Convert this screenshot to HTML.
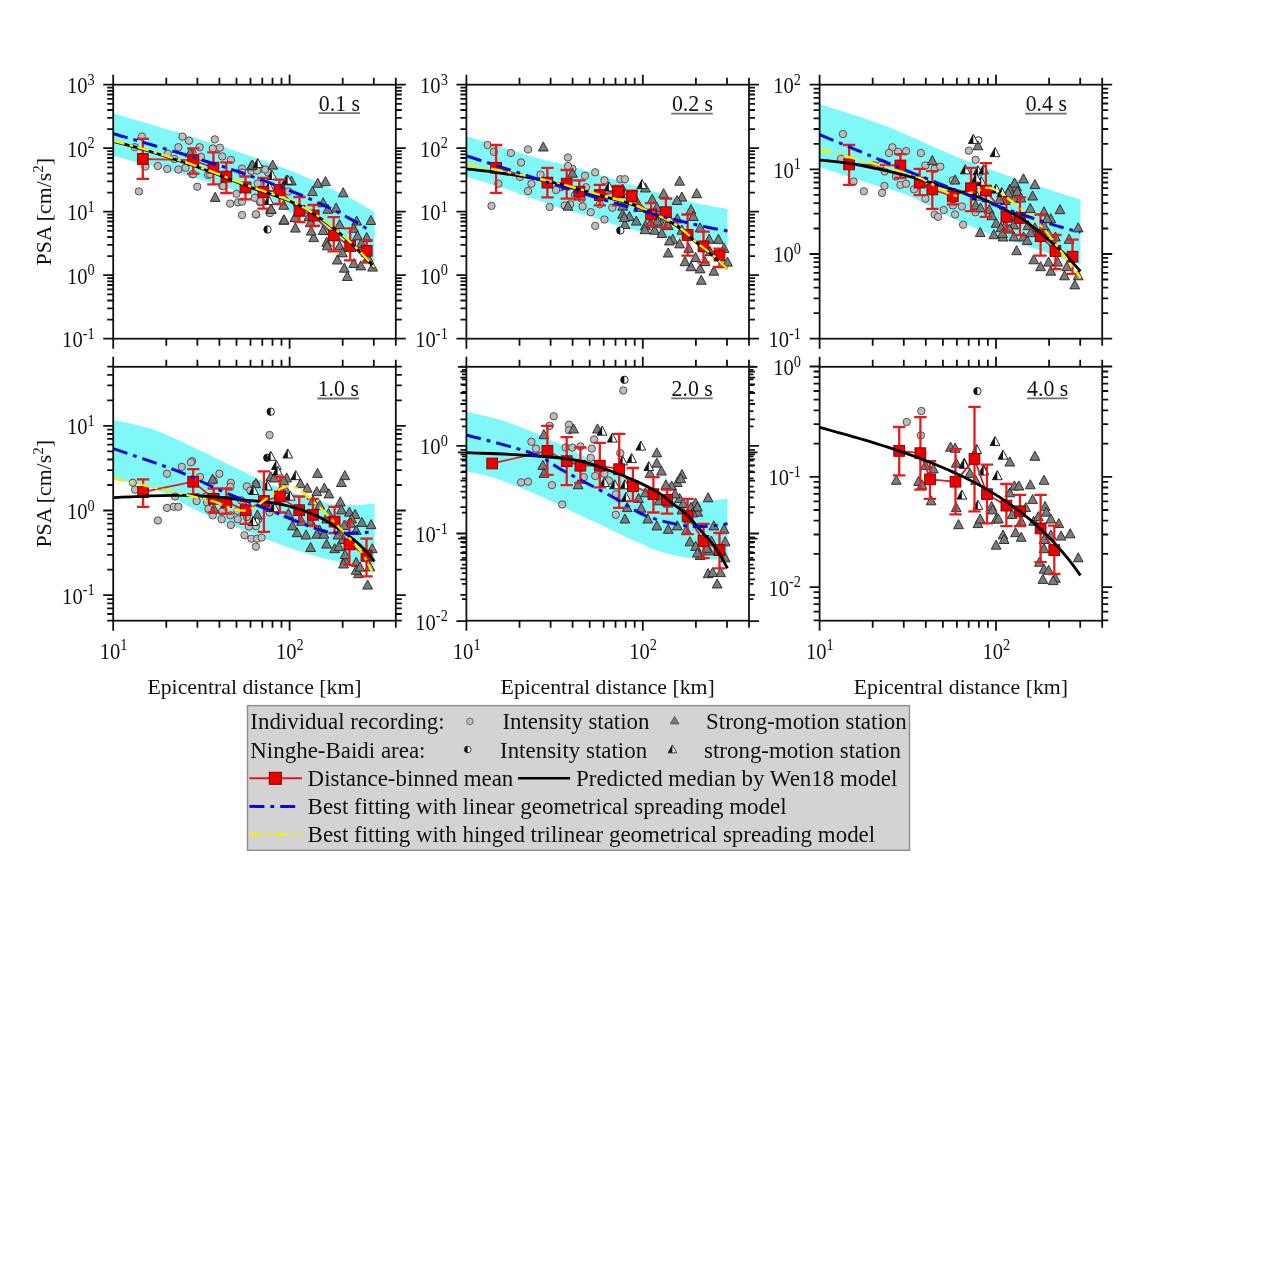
<!DOCTYPE html>
<html><head><meta charset="utf-8"><title>PSA vs epicentral distance</title>
<style>html,body{margin:0;padding:0;background:#fff;width:1272px;height:1270px;overflow:hidden}svg{display:block;will-change:transform}</style>
</head><body>
<svg width="1272" height="1270" viewBox="0 0 1272 1270"><rect width="1272" height="1270" fill="#fff"/><clipPath id="c0"><rect x="113.2" y="84.7" width="282.6" height="254.0"/></clipPath><g clip-path="url(#c0)"><path fill="#80F8F8" d="M113.2,113.3C115.1,113.9 120.8,115.6 124.6,116.7C128.4,117.8 132.1,118.9 135.9,120.0C139.7,121.1 143.5,122.2 147.3,123.3C151.1,124.4 154.9,125.6 158.7,126.7C162.5,127.8 166.2,128.9 170.0,130.1C173.8,131.2 177.6,132.4 181.4,133.6C185.2,134.8 189.0,135.9 192.8,137.1C196.6,138.3 200.3,139.5 204.1,140.7C207.9,141.9 211.7,143.1 215.5,144.3C219.3,145.5 223.1,146.8 226.9,148.0C230.7,149.2 234.4,150.5 238.2,151.8C242.0,153.1 245.8,154.4 249.6,155.7C253.4,157.0 257.1,158.3 260.9,159.7C264.7,161.0 268.5,162.4 272.3,163.8C276.1,165.2 279.9,166.6 283.7,168.1C287.5,169.6 291.2,171.1 295.0,172.6C298.8,174.1 302.6,175.7 306.4,177.3C310.2,178.9 314.0,180.5 317.8,182.2C321.6,183.9 325.3,185.6 329.1,187.4C332.9,189.2 336.7,191.0 340.5,192.9C344.3,194.8 348.1,196.9 351.9,198.9C355.7,200.9 359.4,203.0 363.2,205.2C367.0,207.4 372.7,210.9 374.6,212.1L374.6,267.1C372.7,265.5 367.0,260.4 363.2,257.2C359.4,254.0 355.7,251.0 351.9,248.2C348.1,245.3 344.3,242.7 340.5,240.1C336.7,237.5 332.9,235.1 329.1,232.8C325.3,230.5 321.6,228.2 317.8,226.1C314.0,224.0 310.2,221.9 306.4,220.0C302.6,218.1 298.8,216.2 295.0,214.4C291.2,212.6 287.5,210.9 283.7,209.2C279.9,207.5 276.1,205.9 272.3,204.4C268.5,202.9 264.7,201.4 260.9,199.9C257.1,198.4 253.4,197.0 249.6,195.6C245.8,194.2 242.0,192.9 238.2,191.6C234.4,190.3 230.7,189.0 226.9,187.8C223.1,186.6 219.3,185.4 215.5,184.2C211.7,183.0 207.9,181.8 204.1,180.7C200.3,179.5 196.6,178.4 192.8,177.3C189.0,176.2 185.2,175.1 181.4,174.0C177.6,172.9 173.8,171.9 170.0,170.9C166.2,169.9 162.5,168.8 158.7,167.8C154.9,166.8 151.1,165.8 147.3,164.8C143.5,163.8 139.7,162.9 135.9,161.9C132.1,160.9 128.4,160.0 124.6,159.0C120.8,158.0 115.1,156.6 113.2,156.1Z"/><circle cx="141.8" cy="136.6" r="3.7" fill="#BDBDBD" stroke="#444" stroke-width="0.9"/><circle cx="134.8" cy="147.2" r="3.7" fill="#BDBDBD" stroke="#444" stroke-width="0.9"/><circle cx="138.9" cy="191.4" r="3.7" fill="#BDBDBD" stroke="#444" stroke-width="0.9"/><circle cx="145.4" cy="166.6" r="3.7" fill="#BDBDBD" stroke="#444" stroke-width="0.9"/><circle cx="157.8" cy="166.0" r="3.7" fill="#BDBDBD" stroke="#444" stroke-width="0.9"/><circle cx="167.2" cy="169.0" r="3.7" fill="#BDBDBD" stroke="#444" stroke-width="0.9"/><circle cx="178.4" cy="169.6" r="3.7" fill="#BDBDBD" stroke="#444" stroke-width="0.9"/><circle cx="182.5" cy="136.6" r="3.7" fill="#BDBDBD" stroke="#444" stroke-width="0.9"/><circle cx="189.0" cy="140.7" r="3.7" fill="#BDBDBD" stroke="#444" stroke-width="0.9"/><circle cx="178.4" cy="147.2" r="3.7" fill="#BDBDBD" stroke="#444" stroke-width="0.9"/><circle cx="167.8" cy="153.7" r="3.7" fill="#BDBDBD" stroke="#444" stroke-width="0.9"/><circle cx="174.3" cy="159.0" r="3.7" fill="#BDBDBD" stroke="#444" stroke-width="0.9"/><circle cx="185.5" cy="167.8" r="3.7" fill="#BDBDBD" stroke="#444" stroke-width="0.9"/><circle cx="192.5" cy="174.3" r="3.7" fill="#BDBDBD" stroke="#444" stroke-width="0.9"/><circle cx="199.6" cy="147.2" r="3.7" fill="#BDBDBD" stroke="#444" stroke-width="0.9"/><circle cx="197.3" cy="186.7" r="3.7" fill="#BDBDBD" stroke="#444" stroke-width="0.9"/><circle cx="214.8" cy="139.4" r="3.7" fill="#BDBDBD" stroke="#444" stroke-width="0.9"/><circle cx="212.8" cy="148.5" r="3.7" fill="#BDBDBD" stroke="#444" stroke-width="0.9"/><circle cx="219.9" cy="147.7" r="3.7" fill="#BDBDBD" stroke="#444" stroke-width="0.9"/><circle cx="222.3" cy="156.4" r="3.7" fill="#BDBDBD" stroke="#444" stroke-width="0.9"/><circle cx="230.9" cy="159.9" r="3.7" fill="#BDBDBD" stroke="#444" stroke-width="0.9"/><circle cx="201.0" cy="156.8" r="3.7" fill="#BDBDBD" stroke="#444" stroke-width="0.9"/><circle cx="193.1" cy="174.1" r="3.7" fill="#BDBDBD" stroke="#444" stroke-width="0.9"/><circle cx="208.1" cy="174.9" r="3.7" fill="#BDBDBD" stroke="#444" stroke-width="0.9"/><circle cx="222.3" cy="185.9" r="3.7" fill="#BDBDBD" stroke="#444" stroke-width="0.9"/><circle cx="236.5" cy="193.8" r="3.7" fill="#BDBDBD" stroke="#444" stroke-width="0.9"/><circle cx="230.2" cy="203.6" r="3.7" fill="#BDBDBD" stroke="#444" stroke-width="0.9"/><circle cx="238.0" cy="202.4" r="3.7" fill="#BDBDBD" stroke="#444" stroke-width="0.9"/><circle cx="242.0" cy="201.7" r="3.7" fill="#BDBDBD" stroke="#444" stroke-width="0.9"/><circle cx="242.0" cy="215.0" r="3.7" fill="#BDBDBD" stroke="#444" stroke-width="0.9"/><circle cx="256.1" cy="214.6" r="3.7" fill="#BDBDBD" stroke="#444" stroke-width="0.9"/><circle cx="255.4" cy="197.7" r="3.7" fill="#BDBDBD" stroke="#444" stroke-width="0.9"/><circle cx="260.1" cy="202.4" r="3.7" fill="#BDBDBD" stroke="#444" stroke-width="0.9"/><circle cx="269.5" cy="212.7" r="3.7" fill="#BDBDBD" stroke="#444" stroke-width="0.9"/><circle cx="242.0" cy="168.6" r="3.7" fill="#BDBDBD" stroke="#444" stroke-width="0.9"/><circle cx="242.0" cy="172.5" r="3.7" fill="#BDBDBD" stroke="#444" stroke-width="0.9"/><circle cx="251.4" cy="170.9" r="3.7" fill="#BDBDBD" stroke="#444" stroke-width="0.9"/><circle cx="260.9" cy="168.6" r="3.7" fill="#BDBDBD" stroke="#444" stroke-width="0.9"/><circle cx="268.0" cy="172.5" r="3.7" fill="#BDBDBD" stroke="#444" stroke-width="0.9"/><circle cx="288.4" cy="191.4" r="3.7" fill="#BDBDBD" stroke="#444" stroke-width="0.9"/><circle cx="257.7" cy="183.5" r="3.7" fill="#BDBDBD" stroke="#444" stroke-width="0.9"/><circle cx="255.9" cy="214.3" r="3.7" fill="#BDBDBD" stroke="#444" stroke-width="0.9"/><circle cx="270.0" cy="213.1" r="3.7" fill="#BDBDBD" stroke="#444" stroke-width="0.9"/><circle cx="254.7" cy="197.8" r="3.7" fill="#BDBDBD" stroke="#444" stroke-width="0.9"/><circle cx="260.6" cy="201.3" r="3.7" fill="#BDBDBD" stroke="#444" stroke-width="0.9"/><circle cx="265.3" cy="169.5" r="3.7" fill="#BDBDBD" stroke="#444" stroke-width="0.9"/><circle cx="257.1" cy="170.7" r="3.7" fill="#BDBDBD" stroke="#444" stroke-width="0.9"/><circle cx="223.2" cy="186.1" r="3.7" fill="#BDBDBD" stroke="#444" stroke-width="0.9"/><circle cx="210.2" cy="174.3" r="3.7" fill="#BDBDBD" stroke="#444" stroke-width="0.9"/><circle cx="192.5" cy="153.1" r="3.7" fill="#BDBDBD" stroke="#444" stroke-width="0.9"/><path d="M215.2,192.3L220.1,201.4L210.3,201.4Z" fill="#7B7B7B" stroke="#222" stroke-width="0.9"/><path d="M251.4,160.8L256.3,169.9L246.5,169.9Z" fill="#7B7B7B" stroke="#222" stroke-width="0.9"/><path d="M272.7,160.0L277.6,169.1L267.8,169.1Z" fill="#7B7B7B" stroke="#222" stroke-width="0.9"/><path d="M271.1,204.1L276.0,213.2L266.2,213.2Z" fill="#7B7B7B" stroke="#222" stroke-width="0.9"/><path d="M283.7,215.2L288.6,224.3L278.8,224.3Z" fill="#7B7B7B" stroke="#222" stroke-width="0.9"/><path d="M283.7,200.2L288.6,209.3L278.8,209.3Z" fill="#7B7B7B" stroke="#222" stroke-width="0.9"/><path d="M190.2,147.7L195.1,156.8L185.3,156.8Z" fill="#7B7B7B" stroke="#222" stroke-width="0.9"/><path d="M252.4,160.0L257.3,169.1L247.5,169.1Z" fill="#7B7B7B" stroke="#222" stroke-width="0.9"/><path d="M317.8,178.2L322.7,187.3L312.9,187.3Z" fill="#7B7B7B" stroke="#222" stroke-width="0.9"/><path d="M325.5,176.5L330.4,185.6L320.6,185.6Z" fill="#7B7B7B" stroke="#222" stroke-width="0.9"/><path d="M343.2,187.7L348.1,196.8L338.3,196.8Z" fill="#7B7B7B" stroke="#222" stroke-width="0.9"/><path d="M312.5,186.5L317.4,195.6L307.6,195.6Z" fill="#7B7B7B" stroke="#222" stroke-width="0.9"/><path d="M323.1,197.7L328.0,206.8L318.2,206.8Z" fill="#7B7B7B" stroke="#222" stroke-width="0.9"/><path d="M327.8,204.2L332.7,213.3L322.9,213.3Z" fill="#7B7B7B" stroke="#222" stroke-width="0.9"/><path d="M356.7,216.0L361.6,225.1L351.8,225.1Z" fill="#7B7B7B" stroke="#222" stroke-width="0.9"/><path d="M370.9,215.4L375.8,224.5L366.0,224.5Z" fill="#7B7B7B" stroke="#222" stroke-width="0.9"/><path d="M284.2,214.8L289.1,223.9L279.3,223.9Z" fill="#7B7B7B" stroke="#222" stroke-width="0.9"/><path d="M295.4,223.0L300.3,232.1L290.5,232.1Z" fill="#7B7B7B" stroke="#222" stroke-width="0.9"/><path d="M313.7,232.5L318.6,241.6L308.8,241.6Z" fill="#7B7B7B" stroke="#222" stroke-width="0.9"/><path d="M326.7,237.2L331.6,246.3L321.8,246.3Z" fill="#7B7B7B" stroke="#222" stroke-width="0.9"/><path d="M337.3,254.9L342.2,264.0L332.4,264.0Z" fill="#7B7B7B" stroke="#222" stroke-width="0.9"/><path d="M344.3,263.1L349.2,272.2L339.4,272.2Z" fill="#7B7B7B" stroke="#222" stroke-width="0.9"/><path d="M347.3,271.4L352.2,280.5L342.4,280.5Z" fill="#7B7B7B" stroke="#222" stroke-width="0.9"/><path d="M360.8,260.8L365.7,269.9L355.9,269.9Z" fill="#7B7B7B" stroke="#222" stroke-width="0.9"/><path d="M372.6,262.0L377.5,271.1L367.7,271.1Z" fill="#7B7B7B" stroke="#222" stroke-width="0.9"/><path d="M339.6,240.7L344.5,249.8L334.7,249.8Z" fill="#7B7B7B" stroke="#222" stroke-width="0.9"/><path d="M327.2,240.7L332.1,249.8L322.3,249.8Z" fill="#7B7B7B" stroke="#222" stroke-width="0.9"/><path d="M291.3,175.9L296.2,185.0L286.4,185.0Z" fill="#7B7B7B" stroke="#222" stroke-width="0.9"/><path d="M309.0,211.3L313.9,220.4L304.1,220.4Z" fill="#7B7B7B" stroke="#222" stroke-width="0.9"/><path d="M323.1,225.4L328.0,234.5L318.2,234.5Z" fill="#7B7B7B" stroke="#222" stroke-width="0.9"/><path d="M366.7,232.5L371.6,241.6L361.8,241.6Z" fill="#7B7B7B" stroke="#222" stroke-width="0.9"/><path d="M367.9,252.5L372.8,261.6L363.0,261.6Z" fill="#7B7B7B" stroke="#222" stroke-width="0.9"/><path d="M353.8,258.4L358.7,267.5L348.9,267.5Z" fill="#7B7B7B" stroke="#222" stroke-width="0.9"/><path d="M271.2,204.2L276.1,213.3L266.3,213.3Z" fill="#7B7B7B" stroke="#222" stroke-width="0.9"/><path d="M294.8,212.4L299.7,221.5L289.9,221.5Z" fill="#7B7B7B" stroke="#222" stroke-width="0.9"/><path d="M336.1,203.0L341.0,212.1L331.2,212.1Z" fill="#7B7B7B" stroke="#222" stroke-width="0.9"/><path d="M339.6,219.5L344.5,228.6L334.7,228.6Z" fill="#7B7B7B" stroke="#222" stroke-width="0.9"/><path d="M310.2,217.5L315.1,226.6L305.3,226.6Z" fill="#7B7B7B" stroke="#222" stroke-width="0.9"/><path d="M311.2,226.0L316.1,235.1L306.3,235.1Z" fill="#7B7B7B" stroke="#222" stroke-width="0.9"/><path d="M342.4,247.8L347.3,256.9L337.5,256.9Z" fill="#7B7B7B" stroke="#222" stroke-width="0.9"/><path d="M286.6,175.0L291.5,184.1L281.7,184.1Z" fill="#7B7B7B" stroke="#222" stroke-width="0.9"/><path d="M353.7,223.2L358.6,232.3L348.8,232.3Z" fill="#7B7B7B" stroke="#222" stroke-width="0.9"/><path d="M357.5,230.8L362.4,239.9L352.6,239.9Z" fill="#7B7B7B" stroke="#222" stroke-width="0.9"/><path d="M361.3,238.3L366.2,247.4L356.4,247.4Z" fill="#7B7B7B" stroke="#222" stroke-width="0.9"/><circle cx="267.5" cy="229.5" r="3.7" fill="#fff" stroke="#111" stroke-width="0.9"/><path d="M267.5,225.8A3.7,3.7 0 0 0 267.5,233.2Z" fill="#111"/><path d="M257.7,158.5L262.6,167.6L252.8,167.6Z" fill="#fff" stroke="#111" stroke-width="0.9"/><path d="M257.7,158.5L257.7,167.6L252.8,167.6Z" fill="#111"/><path d="M271.9,170.3L276.8,179.4L267.0,179.4Z" fill="#fff" stroke="#111" stroke-width="0.9"/><path d="M271.9,170.3L271.9,179.4L267.0,179.4Z" fill="#111"/><path d="M287.6,175.0L292.5,184.1L282.7,184.1Z" fill="#fff" stroke="#111" stroke-width="0.9"/><path d="M287.6,175.0L287.6,184.1L282.7,184.1Z" fill="#111"/><path d="M268.7,195.5L273.6,204.6L263.8,204.6Z" fill="#fff" stroke="#111" stroke-width="0.9"/><path d="M268.7,195.5L268.7,204.6L263.8,204.6Z" fill="#111"/><path d="M269.0,181.6L273.9,190.7L264.1,190.7Z" fill="#fff" stroke="#111" stroke-width="0.9"/><path d="M269.0,181.6L269.0,190.7L264.1,190.7Z" fill="#111"/><polyline points="142.8,159.0 193.3,160.2 213.4,167.7 226.4,176.6 245.5,187.5 263.5,192.0 279.5,190.0 299.5,210.8 313.7,215.5 333.7,235.5 350.2,246.1 366.7,250.8" fill="none" stroke="#D02828" stroke-width="1.8"/><path d="M142.8,138.9V178.8M136.6,138.9H149.0M136.6,178.8H149.0" stroke="#E41C1C" stroke-width="2.3" fill="none"/><path d="M193.3,148.3V173.7M187.1,148.3H199.5M187.1,173.7H199.5" stroke="#E41C1C" stroke-width="2.3" fill="none"/><path d="M213.4,152.4V184.3M207.2,152.4H219.6M207.2,184.3H219.6" stroke="#E41C1C" stroke-width="2.3" fill="none"/><path d="M226.4,162.3V193.0M220.2,162.3H232.6M220.2,193.0H232.6" stroke="#E41C1C" stroke-width="2.3" fill="none"/><path d="M245.5,176.5V199.3M239.3,176.5H251.7M239.3,199.3H251.7" stroke="#E41C1C" stroke-width="2.3" fill="none"/><path d="M263.5,178.0V208.7M257.3,178.0H269.7M257.3,208.7H269.7" stroke="#E41C1C" stroke-width="2.3" fill="none"/><path d="M279.5,179.6V204.0M273.3,179.6H285.7M273.3,204.0H285.7" stroke="#E41C1C" stroke-width="2.3" fill="none"/><path d="M299.5,197.0V222.0M293.3,197.0H305.7M293.3,222.0H305.7" stroke="#E41C1C" stroke-width="2.3" fill="none"/><path d="M313.7,205.0V226.0M307.5,205.0H319.9M307.5,226.0H319.9" stroke="#E41C1C" stroke-width="2.3" fill="none"/><path d="M333.7,217.2V251.4M327.5,217.2H339.9M327.5,251.4H339.9" stroke="#E41C1C" stroke-width="2.3" fill="none"/><path d="M350.2,228.4V260.3M344.0,228.4H356.4M344.0,260.3H356.4" stroke="#E41C1C" stroke-width="2.3" fill="none"/><path d="M366.7,240.2V262.6M360.5,240.2H372.9M360.5,262.6H372.9" stroke="#E41C1C" stroke-width="2.3" fill="none"/><rect x="137.4" y="153.6" width="10.8" height="10.8" fill="#EE0000" stroke="#7a0000" stroke-width="0.9"/><rect x="187.9" y="154.8" width="10.8" height="10.8" fill="#EE0000" stroke="#7a0000" stroke-width="0.9"/><rect x="208.0" y="162.3" width="10.8" height="10.8" fill="#EE0000" stroke="#7a0000" stroke-width="0.9"/><rect x="221.0" y="171.2" width="10.8" height="10.8" fill="#EE0000" stroke="#7a0000" stroke-width="0.9"/><rect x="240.1" y="182.1" width="10.8" height="10.8" fill="#EE0000" stroke="#7a0000" stroke-width="0.9"/><rect x="258.1" y="186.6" width="10.8" height="10.8" fill="#EE0000" stroke="#7a0000" stroke-width="0.9"/><rect x="274.1" y="184.6" width="10.8" height="10.8" fill="#EE0000" stroke="#7a0000" stroke-width="0.9"/><rect x="294.1" y="205.4" width="10.8" height="10.8" fill="#EE0000" stroke="#7a0000" stroke-width="0.9"/><rect x="308.3" y="210.1" width="10.8" height="10.8" fill="#EE0000" stroke="#7a0000" stroke-width="0.9"/><rect x="328.3" y="230.1" width="10.8" height="10.8" fill="#EE0000" stroke="#7a0000" stroke-width="0.9"/><rect x="344.8" y="240.7" width="10.8" height="10.8" fill="#EE0000" stroke="#7a0000" stroke-width="0.9"/><rect x="361.3" y="245.4" width="10.8" height="10.8" fill="#EE0000" stroke="#7a0000" stroke-width="0.9"/><path d="M113.2,141.3C119.3,143.0 135.5,147.1 150.0,151.5C164.5,155.9 183.3,162.1 200.0,168.0C216.7,173.9 239.2,183.0 250.0,187.0C260.8,191.0 260.0,190.4 265.0,192.2C270.0,193.9 275.8,195.9 280.0,197.4C284.2,198.9 286.7,199.9 290.0,201.3C293.3,202.8 296.7,204.4 300.0,206.1C303.3,207.8 306.7,209.7 310.0,211.7C313.3,213.7 316.7,215.8 320.0,218.1C323.3,220.4 326.7,222.8 330.0,225.4C333.3,228.0 336.7,230.7 340.0,233.5C343.3,236.4 346.7,239.4 350.0,242.5C353.3,245.6 356.7,248.9 360.0,252.3C363.3,255.7 367.6,260.3 370.0,262.9C372.4,265.6 373.8,267.2 374.6,268.1" fill="none" stroke="#000" stroke-width="2.8" stroke-linejoin="round"/><path d="M113.2,140.7C119.3,142.4 135.5,146.5 150.0,150.9C164.5,155.3 183.3,161.5 200.0,167.4C216.7,173.3 239.2,182.4 250.0,186.4C260.8,190.4 260.0,189.8 265.0,191.6C270.0,193.3 275.8,195.3 280.0,196.8C284.2,198.3 286.7,199.3 290.0,200.7C293.3,202.2 296.7,203.8 300.0,205.5C303.3,207.2 306.7,209.1 310.0,211.1C313.3,213.1 316.7,215.2 320.0,217.5C323.3,219.8 326.7,222.2 330.0,224.8C333.3,227.4 336.7,230.1 340.0,232.9C343.3,235.8 346.7,238.8 350.0,241.9C353.3,245.0 356.7,248.3 360.0,251.7C363.3,255.1 367.6,259.7 370.0,262.3C372.4,265.0 373.8,266.6 374.6,267.5" fill="none" stroke="#F6EE00" stroke-width="2.4" stroke-dasharray="12,5,3.5,4.5"/><path d="M113.2,133.7C115.1,134.2 120.7,135.8 124.4,136.9C128.1,138.0 131.9,139.0 135.6,140.1C139.3,141.2 143.0,142.3 146.7,143.4C150.4,144.5 154.2,145.6 157.9,146.7C161.6,147.8 165.4,148.9 169.1,150.0C172.8,151.1 176.6,152.2 180.3,153.3C184.0,154.4 187.7,155.5 191.4,156.7C195.1,157.8 198.9,159.0 202.6,160.2C206.3,161.4 210.1,162.5 213.8,163.7C217.5,164.9 221.3,166.1 225.0,167.3C228.7,168.5 232.5,169.8 236.2,171.0C239.9,172.2 243.6,173.5 247.3,174.8C251.0,176.1 254.8,177.5 258.5,178.8C262.2,180.1 266.0,181.4 269.7,182.8C273.4,184.2 277.2,185.7 280.9,187.1C284.6,188.5 288.4,190.0 292.1,191.5C295.8,193.0 299.5,194.5 303.2,196.1C306.9,197.7 310.7,199.3 314.4,201.0C318.1,202.7 321.9,204.4 325.6,206.2C329.3,208.0 333.1,209.8 336.8,211.7C340.5,213.6 344.2,215.6 347.9,217.6C351.6,219.6 355.4,221.7 359.1,223.9C362.8,226.1 368.4,229.7 370.3,230.8" fill="none" stroke="#0A0AD0" stroke-width="3" stroke-dasharray="15,6,3.8,6"/></g><clipPath id="c1"><rect x="466.4" y="84.7" width="282.6" height="254.0"/></clipPath><g clip-path="url(#c1)"><path fill="#80F8F8" d="M466.4,136.3C478.7,140.1 521.6,153.5 540.0,158.8C558.4,164.1 553.7,161.3 577.0,168.0C600.3,174.7 654.9,192.2 680.0,199.0C705.1,205.8 719.6,207.3 727.5,209.0L727.5,246.0C723.8,245.4 712.9,243.8 705.0,242.5C697.1,241.2 686.9,239.5 680.0,238.5C673.1,237.5 669.6,237.5 663.8,236.6C657.9,235.7 652.8,234.7 644.9,232.8C637.0,230.9 626.0,228.1 616.6,225.3C607.2,222.5 597.7,218.6 588.3,215.8C578.9,213.0 573.1,212.6 560.0,208.3C546.9,204.0 525.0,195.3 509.4,190.0C493.8,184.7 473.6,178.8 466.4,176.5Z"/><circle cx="487.6" cy="145.0" r="3.7" fill="#BDBDBD" stroke="#444" stroke-width="0.9"/><circle cx="510.9" cy="153.0" r="3.7" fill="#BDBDBD" stroke="#444" stroke-width="0.9"/><circle cx="528.0" cy="149.5" r="3.7" fill="#BDBDBD" stroke="#444" stroke-width="0.9"/><circle cx="521.1" cy="162.5" r="3.7" fill="#BDBDBD" stroke="#444" stroke-width="0.9"/><circle cx="493.8" cy="151.8" r="3.7" fill="#BDBDBD" stroke="#444" stroke-width="0.9"/><circle cx="567.9" cy="157.5" r="3.7" fill="#BDBDBD" stroke="#444" stroke-width="0.9"/><circle cx="491.5" cy="205.9" r="3.7" fill="#BDBDBD" stroke="#444" stroke-width="0.9"/><circle cx="498.3" cy="183.7" r="3.7" fill="#BDBDBD" stroke="#444" stroke-width="0.9"/><circle cx="531.4" cy="183.7" r="3.7" fill="#BDBDBD" stroke="#444" stroke-width="0.9"/><circle cx="528.0" cy="191.0" r="3.7" fill="#BDBDBD" stroke="#444" stroke-width="0.9"/><circle cx="520.0" cy="176.9" r="3.7" fill="#BDBDBD" stroke="#444" stroke-width="0.9"/><circle cx="549.6" cy="207.0" r="3.7" fill="#BDBDBD" stroke="#444" stroke-width="0.9"/><circle cx="572.4" cy="168.9" r="3.7" fill="#BDBDBD" stroke="#444" stroke-width="0.9"/><circle cx="585.0" cy="175.8" r="3.7" fill="#BDBDBD" stroke="#444" stroke-width="0.9"/><circle cx="595.2" cy="172.3" r="3.7" fill="#BDBDBD" stroke="#444" stroke-width="0.9"/><circle cx="586.1" cy="187.2" r="3.7" fill="#BDBDBD" stroke="#444" stroke-width="0.9"/><circle cx="590.7" cy="212.2" r="3.7" fill="#BDBDBD" stroke="#444" stroke-width="0.9"/><circle cx="604.4" cy="219.5" r="3.7" fill="#BDBDBD" stroke="#444" stroke-width="0.9"/><circle cx="595.2" cy="225.9" r="3.7" fill="#BDBDBD" stroke="#444" stroke-width="0.9"/><circle cx="620.3" cy="179.2" r="3.7" fill="#BDBDBD" stroke="#444" stroke-width="0.9"/><circle cx="624.9" cy="179.2" r="3.7" fill="#BDBDBD" stroke="#444" stroke-width="0.9"/><circle cx="604.4" cy="180.3" r="3.7" fill="#BDBDBD" stroke="#444" stroke-width="0.9"/><circle cx="612.3" cy="207.7" r="3.7" fill="#BDBDBD" stroke="#444" stroke-width="0.9"/><circle cx="581.6" cy="198.6" r="3.7" fill="#BDBDBD" stroke="#444" stroke-width="0.9"/><circle cx="561.0" cy="187.2" r="3.7" fill="#BDBDBD" stroke="#444" stroke-width="0.9"/><circle cx="540.5" cy="174.6" r="3.7" fill="#BDBDBD" stroke="#444" stroke-width="0.9"/><circle cx="570.2" cy="204.3" r="3.7" fill="#BDBDBD" stroke="#444" stroke-width="0.9"/><circle cx="599.8" cy="204.3" r="3.7" fill="#BDBDBD" stroke="#444" stroke-width="0.9"/><circle cx="568.0" cy="166.0" r="3.7" fill="#BDBDBD" stroke="#444" stroke-width="0.9"/><circle cx="556.0" cy="190.0" r="3.7" fill="#BDBDBD" stroke="#444" stroke-width="0.9"/><circle cx="575.0" cy="195.0" r="3.7" fill="#BDBDBD" stroke="#444" stroke-width="0.9"/><circle cx="610.0" cy="195.0" r="3.7" fill="#BDBDBD" stroke="#444" stroke-width="0.9"/><circle cx="582.6" cy="206.4" r="3.7" fill="#BDBDBD" stroke="#444" stroke-width="0.9"/><circle cx="564.7" cy="205.5" r="3.7" fill="#BDBDBD" stroke="#444" stroke-width="0.9"/><path d="M543.3,141.9L548.2,151.0L538.4,151.0Z" fill="#7B7B7B" stroke="#222" stroke-width="0.9"/><path d="M572.4,168.1L577.3,177.2L567.5,177.2Z" fill="#7B7B7B" stroke="#222" stroke-width="0.9"/><path d="M567.9,201.1L572.8,210.2L563.0,210.2Z" fill="#7B7B7B" stroke="#222" stroke-width="0.9"/><path d="M622.6,201.1L627.5,210.2L617.7,210.2Z" fill="#7B7B7B" stroke="#222" stroke-width="0.9"/><path d="M624.9,219.4L629.8,228.5L620.0,228.5Z" fill="#7B7B7B" stroke="#222" stroke-width="0.9"/><path d="M645.4,182.9L650.3,192.0L640.5,192.0Z" fill="#7B7B7B" stroke="#222" stroke-width="0.9"/><path d="M679.6,176.1L684.5,185.2L674.7,185.2Z" fill="#7B7B7B" stroke="#222" stroke-width="0.9"/><path d="M696.7,188.6L701.6,197.7L691.8,197.7Z" fill="#7B7B7B" stroke="#222" stroke-width="0.9"/><path d="M681.9,192.0L686.8,201.1L677.0,201.1Z" fill="#7B7B7B" stroke="#222" stroke-width="0.9"/><path d="M663.6,188.6L668.5,197.7L658.7,197.7Z" fill="#7B7B7B" stroke="#222" stroke-width="0.9"/><path d="M652.2,194.3L657.1,203.4L647.3,203.4Z" fill="#7B7B7B" stroke="#222" stroke-width="0.9"/><path d="M638.6,202.3L643.5,211.4L633.7,211.4Z" fill="#7B7B7B" stroke="#222" stroke-width="0.9"/><path d="M636.3,216.0L641.2,225.1L631.4,225.1Z" fill="#7B7B7B" stroke="#222" stroke-width="0.9"/><path d="M645.4,220.5L650.3,229.6L640.5,229.6Z" fill="#7B7B7B" stroke="#222" stroke-width="0.9"/><path d="M654.5,225.1L659.4,234.2L649.6,234.2Z" fill="#7B7B7B" stroke="#222" stroke-width="0.9"/><path d="M661.4,218.2L666.3,227.3L656.5,227.3Z" fill="#7B7B7B" stroke="#222" stroke-width="0.9"/><path d="M668.2,247.9L673.1,257.0L663.3,257.0Z" fill="#7B7B7B" stroke="#222" stroke-width="0.9"/><path d="M672.8,234.2L677.7,243.3L667.9,243.3Z" fill="#7B7B7B" stroke="#222" stroke-width="0.9"/><path d="M677.3,213.7L682.2,222.8L672.4,222.8Z" fill="#7B7B7B" stroke="#222" stroke-width="0.9"/><path d="M681.9,225.1L686.8,234.2L677.0,234.2Z" fill="#7B7B7B" stroke="#222" stroke-width="0.9"/><path d="M691.0,204.6L695.9,213.7L686.1,213.7Z" fill="#7B7B7B" stroke="#222" stroke-width="0.9"/><path d="M693.3,211.4L698.2,220.5L688.4,220.5Z" fill="#7B7B7B" stroke="#222" stroke-width="0.9"/><path d="M679.6,238.8L684.5,247.9L674.7,247.9Z" fill="#7B7B7B" stroke="#222" stroke-width="0.9"/><path d="M688.7,243.3L693.6,252.4L683.8,252.4Z" fill="#7B7B7B" stroke="#222" stroke-width="0.9"/><path d="M691.0,261.6L695.9,270.7L686.1,270.7Z" fill="#7B7B7B" stroke="#222" stroke-width="0.9"/><path d="M700.1,263.8L705.0,272.9L695.2,272.9Z" fill="#7B7B7B" stroke="#222" stroke-width="0.9"/><path d="M701.3,275.2L706.2,284.3L696.4,284.3Z" fill="#7B7B7B" stroke="#222" stroke-width="0.9"/><path d="M713.8,266.1L718.7,275.2L708.9,275.2Z" fill="#7B7B7B" stroke="#222" stroke-width="0.9"/><path d="M718.4,234.2L723.3,243.3L713.5,243.3Z" fill="#7B7B7B" stroke="#222" stroke-width="0.9"/><path d="M724.1,243.3L729.0,252.4L719.2,252.4Z" fill="#7B7B7B" stroke="#222" stroke-width="0.9"/><path d="M727.5,257.0L732.4,266.1L722.6,266.1Z" fill="#7B7B7B" stroke="#222" stroke-width="0.9"/><path d="M700.1,222.8L705.0,231.9L695.2,231.9Z" fill="#7B7B7B" stroke="#222" stroke-width="0.9"/><path d="M709.2,234.2L714.1,243.3L704.3,243.3Z" fill="#7B7B7B" stroke="#222" stroke-width="0.9"/><path d="M695.6,252.4L700.5,261.5L690.7,261.5Z" fill="#7B7B7B" stroke="#222" stroke-width="0.9"/><path d="M668.2,220.5L673.1,229.6L663.3,229.6Z" fill="#7B7B7B" stroke="#222" stroke-width="0.9"/><path d="M629.4,211.4L634.3,220.5L624.5,220.5Z" fill="#7B7B7B" stroke="#222" stroke-width="0.9"/><path d="M622.6,209.1L627.5,218.2L617.7,218.2Z" fill="#7B7B7B" stroke="#222" stroke-width="0.9"/><path d="M636.3,195.4L641.2,204.5L631.4,204.5Z" fill="#7B7B7B" stroke="#222" stroke-width="0.9"/><path d="M656.8,202.3L661.7,211.4L651.9,211.4Z" fill="#7B7B7B" stroke="#222" stroke-width="0.9"/><path d="M663.6,206.8L668.5,215.9L658.7,215.9Z" fill="#7B7B7B" stroke="#222" stroke-width="0.9"/><path d="M705.0,256.6L709.9,265.7L700.1,265.7Z" fill="#7B7B7B" stroke="#222" stroke-width="0.9"/><path d="M685.0,256.6L689.9,265.7L680.1,265.7Z" fill="#7B7B7B" stroke="#222" stroke-width="0.9"/><path d="M710.0,246.6L714.9,255.7L705.1,255.7Z" fill="#7B7B7B" stroke="#222" stroke-width="0.9"/><path d="M624.2,212.3L629.1,221.4L619.3,221.4Z" fill="#7B7B7B" stroke="#222" stroke-width="0.9"/><path d="M644.9,224.6L649.8,233.7L640.0,233.7Z" fill="#7B7B7B" stroke="#222" stroke-width="0.9"/><path d="M661.9,228.4L666.8,237.5L657.0,237.5Z" fill="#7B7B7B" stroke="#222" stroke-width="0.9"/><path d="M669.4,235.9L674.3,245.0L664.5,245.0Z" fill="#7B7B7B" stroke="#222" stroke-width="0.9"/><path d="M677.0,195.4L681.9,204.5L672.1,204.5Z" fill="#7B7B7B" stroke="#222" stroke-width="0.9"/><path d="M657.2,216.1L662.1,225.2L652.3,225.2Z" fill="#7B7B7B" stroke="#222" stroke-width="0.9"/><path d="M650.6,218.0L655.5,227.1L645.7,227.1Z" fill="#7B7B7B" stroke="#222" stroke-width="0.9"/><circle cx="620.3" cy="230.5" r="3.7" fill="#fff" stroke="#111" stroke-width="0.9"/><path d="M620.3,226.8A3.7,3.7 0 0 0 620.3,234.2Z" fill="#111"/><path d="M642.0,179.5L646.9,188.6L637.1,188.6Z" fill="#fff" stroke="#111" stroke-width="0.9"/><path d="M642.0,179.5L642.0,188.6L637.1,188.6Z" fill="#111"/><path d="M608.9,181.8L613.8,190.9L604.0,190.9Z" fill="#fff" stroke="#111" stroke-width="0.9"/><path d="M608.9,181.8L608.9,190.9L604.0,190.9Z" fill="#111"/><path d="M622.6,184.0L627.5,193.1L617.7,193.1Z" fill="#fff" stroke="#111" stroke-width="0.9"/><path d="M622.6,184.0L622.6,193.1L617.7,193.1Z" fill="#111"/><path d="M624.9,188.6L629.8,197.7L620.0,197.7Z" fill="#fff" stroke="#111" stroke-width="0.9"/><path d="M624.9,188.6L624.9,197.7L620.0,197.7Z" fill="#111"/><polyline points="496.1,167.8 547.4,182.6 566.7,183.7 579.3,191.7 599.8,195.1 618.0,191.7 631.7,196.3 651.1,214.5 665.9,212.2 687.6,235.0 703.5,246.4 719.5,255.6" fill="none" stroke="#D02828" stroke-width="1.8"/><path d="M496.1,145.0V192.9M489.9,145.0H502.3M489.9,192.9H502.3" stroke="#E41C1C" stroke-width="2.3" fill="none"/><path d="M547.4,167.8V197.4M541.2,167.8H553.6M541.2,197.4H553.6" stroke="#E41C1C" stroke-width="2.3" fill="none"/><path d="M566.7,170.0V198.6M560.5,170.0H572.9M560.5,198.6H572.9" stroke="#E41C1C" stroke-width="2.3" fill="none"/><path d="M579.3,180.3V199.7M573.1,180.3H585.5M573.1,199.7H585.5" stroke="#E41C1C" stroke-width="2.3" fill="none"/><path d="M599.8,184.9V205.4M593.6,184.9H606.0M593.6,205.4H606.0" stroke="#E41C1C" stroke-width="2.3" fill="none"/><path d="M618.0,186.0V205.4M611.8,186.0H624.2M611.8,205.4H624.2" stroke="#E41C1C" stroke-width="2.3" fill="none"/><path d="M631.7,190.6V204.3M625.5,190.6H637.9M625.5,204.3H637.9" stroke="#E41C1C" stroke-width="2.3" fill="none"/><path d="M651.1,203.1V225.9M644.9,203.1H657.3M644.9,225.9H657.3" stroke="#E41C1C" stroke-width="2.3" fill="none"/><path d="M665.9,198.6V228.2M659.7,198.6H672.1M659.7,228.2H672.1" stroke="#E41C1C" stroke-width="2.3" fill="none"/><path d="M687.6,214.5V255.6M681.4,214.5H693.8M681.4,255.6H693.8" stroke="#E41C1C" stroke-width="2.3" fill="none"/><path d="M703.5,231.6V262.4M697.3,231.6H709.7M697.3,262.4H709.7" stroke="#E41C1C" stroke-width="2.3" fill="none"/><path d="M719.5,248.7V267.0M713.3,248.7H725.7M713.3,267.0H725.7" stroke="#E41C1C" stroke-width="2.3" fill="none"/><rect x="490.7" y="162.4" width="10.8" height="10.8" fill="#EE0000" stroke="#7a0000" stroke-width="0.9"/><rect x="542.0" y="177.2" width="10.8" height="10.8" fill="#EE0000" stroke="#7a0000" stroke-width="0.9"/><rect x="561.3" y="178.3" width="10.8" height="10.8" fill="#EE0000" stroke="#7a0000" stroke-width="0.9"/><rect x="573.9" y="186.3" width="10.8" height="10.8" fill="#EE0000" stroke="#7a0000" stroke-width="0.9"/><rect x="594.4" y="189.7" width="10.8" height="10.8" fill="#EE0000" stroke="#7a0000" stroke-width="0.9"/><rect x="612.6" y="186.3" width="10.8" height="10.8" fill="#EE0000" stroke="#7a0000" stroke-width="0.9"/><rect x="626.3" y="190.9" width="10.8" height="10.8" fill="#EE0000" stroke="#7a0000" stroke-width="0.9"/><rect x="645.7" y="209.1" width="10.8" height="10.8" fill="#EE0000" stroke="#7a0000" stroke-width="0.9"/><rect x="660.5" y="206.8" width="10.8" height="10.8" fill="#EE0000" stroke="#7a0000" stroke-width="0.9"/><rect x="682.2" y="229.6" width="10.8" height="10.8" fill="#EE0000" stroke="#7a0000" stroke-width="0.9"/><rect x="698.1" y="241.0" width="10.8" height="10.8" fill="#EE0000" stroke="#7a0000" stroke-width="0.9"/><rect x="714.1" y="250.2" width="10.8" height="10.8" fill="#EE0000" stroke="#7a0000" stroke-width="0.9"/><path d="M466.4,168.9C472.0,169.6 487.7,171.2 500.0,173.0C512.3,174.8 528.3,177.2 540.0,179.5C551.7,181.8 560.0,184.3 570.0,187.0C580.0,189.7 590.3,192.8 600.0,195.5C609.7,198.2 620.7,200.7 628.0,203.0C635.3,205.3 638.7,207.3 644.0,209.6C649.3,211.9 654.5,214.2 660.0,217.0C665.5,219.8 670.5,221.5 677.0,226.1C683.5,230.7 692.9,239.7 699.0,244.8C705.1,249.9 709.0,252.5 713.8,256.5C718.5,260.5 725.2,266.9 727.5,269.0" fill="none" stroke="#000" stroke-width="2.8" stroke-linejoin="round"/><path d="M466.4,164.4C472.0,165.4 487.7,168.1 500.0,170.5C512.3,172.9 528.3,176.3 540.0,179.0C551.7,181.7 560.0,183.8 570.0,186.5C580.0,189.2 590.3,192.3 600.0,195.0C609.7,197.7 620.7,200.2 628.0,202.5C635.3,204.8 638.7,206.7 644.0,209.0C649.3,211.3 654.5,213.7 660.0,216.5C665.5,219.3 670.5,220.9 677.0,225.6C683.5,230.2 692.9,239.3 699.0,244.4C705.1,249.5 709.0,252.1 713.8,256.2C718.5,260.3 725.2,267.0 727.5,269.2" fill="none" stroke="#F6EE00" stroke-width="2.4" stroke-dasharray="12,5,3.5,4.5"/><path d="M467.1,156.0C469.0,156.6 474.6,158.5 478.4,159.7C482.2,160.9 485.9,162.2 489.7,163.4C493.5,164.6 497.3,165.9 501.1,167.1C504.9,168.3 508.6,169.6 512.4,170.8C516.2,172.0 519.9,173.3 523.7,174.5C527.5,175.7 531.2,177.0 535.0,178.2C538.8,179.4 542.6,180.6 546.4,181.8C550.2,183.0 553.9,184.2 557.7,185.4C561.5,186.6 565.2,187.8 569.0,189.0C572.8,190.2 576.5,191.3 580.3,192.5C584.1,193.7 587.8,194.8 591.6,196.0C595.4,197.2 599.2,198.3 603.0,199.5C606.8,200.7 610.5,201.8 614.3,202.9C618.1,204.0 621.8,205.1 625.6,206.2C629.4,207.3 633.1,208.4 636.9,209.5C640.7,210.6 644.4,211.6 648.2,212.6C652.0,213.6 655.8,214.7 659.6,215.7C663.4,216.7 667.1,217.7 670.9,218.7C674.7,219.7 678.4,220.6 682.2,221.5C686.0,222.4 689.7,223.3 693.5,224.2C697.3,225.0 701.1,225.8 704.9,226.6C708.7,227.4 712.4,228.2 716.2,228.9C720.0,229.6 725.6,230.7 727.5,231.0" fill="none" stroke="#0A0AD0" stroke-width="3" stroke-dasharray="15,6,3.8,6"/></g><clipPath id="c2"><rect x="819.6" y="84.7" width="282.6" height="254.0"/></clipPath><g clip-path="url(#c2)"><path fill="#80F8F8" d="M819.6,103.9C830.4,107.5 862.2,117.0 884.4,125.6C906.6,134.1 930.0,146.1 952.8,155.2C975.6,164.3 999.9,172.9 1021.2,180.3C1042.5,187.7 1070.6,196.5 1080.5,199.7L1080.5,264.7C1075.4,262.9 1059.9,257.4 1050.0,254.0C1040.1,250.6 1032.0,247.7 1021.2,244.0C1010.4,240.3 996.9,236.5 985.0,232.0C973.1,227.5 960.8,222.2 950.0,217.0C939.2,211.8 928.3,205.1 920.0,201.0C911.7,196.9 907.5,195.1 900.0,192.5C892.5,189.9 883.3,187.9 875.0,185.3C866.7,182.7 859.2,180.1 850.0,177.0C840.8,173.9 824.7,168.6 819.6,166.9Z"/><circle cx="842.9" cy="134.0" r="3.7" fill="#BDBDBD" stroke="#444" stroke-width="0.9"/><circle cx="841.1" cy="158.7" r="3.7" fill="#BDBDBD" stroke="#444" stroke-width="0.9"/><circle cx="853.6" cy="181.5" r="3.7" fill="#BDBDBD" stroke="#444" stroke-width="0.9"/><circle cx="863.9" cy="191.3" r="3.7" fill="#BDBDBD" stroke="#444" stroke-width="0.9"/><circle cx="882.1" cy="192.9" r="3.7" fill="#BDBDBD" stroke="#444" stroke-width="0.9"/><circle cx="884.4" cy="186.0" r="3.7" fill="#BDBDBD" stroke="#444" stroke-width="0.9"/><circle cx="892.4" cy="147.3" r="3.7" fill="#BDBDBD" stroke="#444" stroke-width="0.9"/><circle cx="889.0" cy="153.0" r="3.7" fill="#BDBDBD" stroke="#444" stroke-width="0.9"/><circle cx="906.1" cy="151.1" r="3.7" fill="#BDBDBD" stroke="#444" stroke-width="0.9"/><circle cx="898.1" cy="151.8" r="3.7" fill="#BDBDBD" stroke="#444" stroke-width="0.9"/><circle cx="920.9" cy="153.0" r="3.7" fill="#BDBDBD" stroke="#444" stroke-width="0.9"/><circle cx="900.4" cy="184.9" r="3.7" fill="#BDBDBD" stroke="#444" stroke-width="0.9"/><circle cx="906.1" cy="183.7" r="3.7" fill="#BDBDBD" stroke="#444" stroke-width="0.9"/><circle cx="925.4" cy="165.5" r="3.7" fill="#BDBDBD" stroke="#444" stroke-width="0.9"/><circle cx="934.6" cy="168.9" r="3.7" fill="#BDBDBD" stroke="#444" stroke-width="0.9"/><circle cx="940.3" cy="166.6" r="3.7" fill="#BDBDBD" stroke="#444" stroke-width="0.9"/><circle cx="968.8" cy="150.7" r="3.7" fill="#BDBDBD" stroke="#444" stroke-width="0.9"/><circle cx="975.6" cy="159.8" r="3.7" fill="#BDBDBD" stroke="#444" stroke-width="0.9"/><circle cx="934.6" cy="214.5" r="3.7" fill="#BDBDBD" stroke="#444" stroke-width="0.9"/><circle cx="938.0" cy="216.8" r="3.7" fill="#BDBDBD" stroke="#444" stroke-width="0.9"/><circle cx="943.7" cy="210.0" r="3.7" fill="#BDBDBD" stroke="#444" stroke-width="0.9"/><circle cx="955.1" cy="214.5" r="3.7" fill="#BDBDBD" stroke="#444" stroke-width="0.9"/><circle cx="963.1" cy="224.8" r="3.7" fill="#BDBDBD" stroke="#444" stroke-width="0.9"/><circle cx="952.8" cy="180.3" r="3.7" fill="#BDBDBD" stroke="#444" stroke-width="0.9"/><circle cx="961.9" cy="206.5" r="3.7" fill="#BDBDBD" stroke="#444" stroke-width="0.9"/><circle cx="925.4" cy="198.6" r="3.7" fill="#BDBDBD" stroke="#444" stroke-width="0.9"/><circle cx="914.0" cy="189.4" r="3.7" fill="#BDBDBD" stroke="#444" stroke-width="0.9"/><circle cx="975.6" cy="212.2" r="3.7" fill="#BDBDBD" stroke="#444" stroke-width="0.9"/><circle cx="952.8" cy="205.4" r="3.7" fill="#BDBDBD" stroke="#444" stroke-width="0.9"/><circle cx="874.3" cy="165.3" r="3.7" fill="#BDBDBD" stroke="#444" stroke-width="0.9"/><circle cx="881.4" cy="164.3" r="3.7" fill="#BDBDBD" stroke="#444" stroke-width="0.9"/><circle cx="884.7" cy="171.4" r="3.7" fill="#BDBDBD" stroke="#444" stroke-width="0.9"/><circle cx="896.0" cy="176.6" r="3.7" fill="#BDBDBD" stroke="#444" stroke-width="0.9"/><circle cx="978.3" cy="140.4" r="3.7" fill="#fff" stroke="#111" stroke-width="0.9"/><path d="M932.3,155.5L937.2,164.6L927.4,164.6Z" fill="#7B7B7B" stroke="#222" stroke-width="0.9"/><path d="M955.1,174.9L960.0,184.0L950.2,184.0Z" fill="#7B7B7B" stroke="#222" stroke-width="0.9"/><path d="M975.6,200.0L980.5,209.1L970.7,209.1Z" fill="#7B7B7B" stroke="#222" stroke-width="0.9"/><path d="M980.2,227.4L985.1,236.5L975.3,236.5Z" fill="#7B7B7B" stroke="#222" stroke-width="0.9"/><path d="M993.8,229.6L998.7,238.7L988.9,238.7Z" fill="#7B7B7B" stroke="#222" stroke-width="0.9"/><path d="M1003.0,231.9L1007.9,241.0L998.1,241.0Z" fill="#7B7B7B" stroke="#222" stroke-width="0.9"/><path d="M989.3,204.6L994.2,213.7L984.4,213.7Z" fill="#7B7B7B" stroke="#222" stroke-width="0.9"/><path d="M996.1,218.2L1001.0,227.3L991.2,227.3Z" fill="#7B7B7B" stroke="#222" stroke-width="0.9"/><path d="M1005.2,220.5L1010.1,229.6L1000.3,229.6Z" fill="#7B7B7B" stroke="#222" stroke-width="0.9"/><path d="M1009.8,184.0L1014.7,193.1L1004.9,193.1Z" fill="#7B7B7B" stroke="#222" stroke-width="0.9"/><path d="M1016.6,181.8L1021.5,190.9L1011.7,190.9Z" fill="#7B7B7B" stroke="#222" stroke-width="0.9"/><path d="M1023.5,173.8L1028.4,182.9L1018.6,182.9Z" fill="#7B7B7B" stroke="#222" stroke-width="0.9"/><path d="M1034.9,179.5L1039.8,188.6L1030.0,188.6Z" fill="#7B7B7B" stroke="#222" stroke-width="0.9"/><path d="M1032.6,190.9L1037.5,200.0L1027.7,200.0Z" fill="#7B7B7B" stroke="#222" stroke-width="0.9"/><path d="M1030.3,203.4L1035.2,212.5L1025.4,212.5Z" fill="#7B7B7B" stroke="#222" stroke-width="0.9"/><path d="M1014.4,193.2L1019.3,202.3L1009.5,202.3Z" fill="#7B7B7B" stroke="#222" stroke-width="0.9"/><path d="M1016.6,211.4L1021.5,220.5L1011.7,220.5Z" fill="#7B7B7B" stroke="#222" stroke-width="0.9"/><path d="M1023.5,231.9L1028.4,241.0L1018.6,241.0Z" fill="#7B7B7B" stroke="#222" stroke-width="0.9"/><path d="M1028.0,220.5L1032.9,229.6L1023.1,229.6Z" fill="#7B7B7B" stroke="#222" stroke-width="0.9"/><path d="M1034.9,222.8L1039.8,231.9L1030.0,231.9Z" fill="#7B7B7B" stroke="#222" stroke-width="0.9"/><path d="M1016.6,245.6L1021.5,254.7L1011.7,254.7Z" fill="#7B7B7B" stroke="#222" stroke-width="0.9"/><path d="M1033.7,254.7L1038.6,263.8L1028.8,263.8Z" fill="#7B7B7B" stroke="#222" stroke-width="0.9"/><path d="M1040.6,261.6L1045.5,270.7L1035.7,270.7Z" fill="#7B7B7B" stroke="#222" stroke-width="0.9"/><path d="M1044.0,206.8L1048.9,215.9L1039.1,215.9Z" fill="#7B7B7B" stroke="#222" stroke-width="0.9"/><path d="M1050.8,213.7L1055.7,222.8L1045.9,222.8Z" fill="#7B7B7B" stroke="#222" stroke-width="0.9"/><path d="M1060.0,204.6L1064.9,213.7L1055.1,213.7Z" fill="#7B7B7B" stroke="#222" stroke-width="0.9"/><path d="M1055.4,231.9L1060.3,241.0L1050.5,241.0Z" fill="#7B7B7B" stroke="#222" stroke-width="0.9"/><path d="M1048.6,257.0L1053.5,266.1L1043.7,266.1Z" fill="#7B7B7B" stroke="#222" stroke-width="0.9"/><path d="M1050.8,266.1L1055.7,275.2L1045.9,275.2Z" fill="#7B7B7B" stroke="#222" stroke-width="0.9"/><path d="M1057.7,257.0L1062.6,266.1L1052.8,266.1Z" fill="#7B7B7B" stroke="#222" stroke-width="0.9"/><path d="M1064.5,270.7L1069.4,279.8L1059.6,279.8Z" fill="#7B7B7B" stroke="#222" stroke-width="0.9"/><path d="M1069.1,234.2L1074.0,243.3L1064.2,243.3Z" fill="#7B7B7B" stroke="#222" stroke-width="0.9"/><path d="M1078.2,222.8L1083.1,231.9L1073.3,231.9Z" fill="#7B7B7B" stroke="#222" stroke-width="0.9"/><path d="M1078.2,270.7L1083.1,279.8L1073.3,279.8Z" fill="#7B7B7B" stroke="#222" stroke-width="0.9"/><path d="M1074.8,279.8L1079.7,288.9L1069.9,288.9Z" fill="#7B7B7B" stroke="#222" stroke-width="0.9"/><path d="M1066.8,261.6L1071.7,270.7L1061.9,270.7Z" fill="#7B7B7B" stroke="#222" stroke-width="0.9"/><path d="M977.9,140.7L982.8,149.8L973.0,149.8Z" fill="#7B7B7B" stroke="#222" stroke-width="0.9"/><path d="M1044.0,220.5L1048.9,229.6L1039.1,229.6Z" fill="#7B7B7B" stroke="#222" stroke-width="0.9"/><path d="M1005.2,195.4L1010.1,204.5L1000.3,204.5Z" fill="#7B7B7B" stroke="#222" stroke-width="0.9"/><path d="M1014.5,178.0L1019.4,187.1L1009.6,187.1Z" fill="#7B7B7B" stroke="#222" stroke-width="0.9"/><path d="M1017.3,186.5L1022.2,195.6L1012.4,195.6Z" fill="#7B7B7B" stroke="#222" stroke-width="0.9"/><path d="M980.5,202.8L985.4,211.9L975.6,211.9Z" fill="#7B7B7B" stroke="#222" stroke-width="0.9"/><path d="M991.8,210.6L996.7,219.7L986.9,219.7Z" fill="#7B7B7B" stroke="#222" stroke-width="0.9"/><path d="M1001.0,222.6L1005.9,231.7L996.1,231.7Z" fill="#7B7B7B" stroke="#222" stroke-width="0.9"/><path d="M1002.5,228.3L1007.4,237.4L997.6,237.4Z" fill="#7B7B7B" stroke="#222" stroke-width="0.9"/><path d="M1013.8,231.8L1018.7,240.9L1008.9,240.9Z" fill="#7B7B7B" stroke="#222" stroke-width="0.9"/><path d="M1027.2,235.4L1032.1,244.5L1022.3,244.5Z" fill="#7B7B7B" stroke="#222" stroke-width="0.9"/><path d="M1030.8,227.6L1035.7,236.7L1025.9,236.7Z" fill="#7B7B7B" stroke="#222" stroke-width="0.9"/><path d="M1013.8,219.8L1018.7,228.9L1008.9,228.9Z" fill="#7B7B7B" stroke="#222" stroke-width="0.9"/><path d="M1009.5,224.0L1014.4,233.1L1004.6,233.1Z" fill="#7B7B7B" stroke="#222" stroke-width="0.9"/><path d="M1047.0,213.4L1051.9,222.5L1042.1,222.5Z" fill="#7B7B7B" stroke="#222" stroke-width="0.9"/><path d="M1048.5,228.3L1053.4,237.4L1043.6,237.4Z" fill="#7B7B7B" stroke="#222" stroke-width="0.9"/><path d="M1020.9,192.9L1025.8,202.0L1016.0,202.0Z" fill="#7B7B7B" stroke="#222" stroke-width="0.9"/><path d="M999.6,194.3L1004.5,203.4L994.7,203.4Z" fill="#7B7B7B" stroke="#222" stroke-width="0.9"/><path d="M1008.1,188.0L1013.0,197.1L1003.2,197.1Z" fill="#7B7B7B" stroke="#222" stroke-width="0.9"/><path d="M973.3,134.3L978.2,143.4L968.4,143.4Z" fill="#fff" stroke="#111" stroke-width="0.9"/><path d="M973.3,134.3L973.3,143.4L968.4,143.4Z" fill="#111"/><path d="M995.0,147.6L999.9,156.7L990.1,156.7Z" fill="#fff" stroke="#111" stroke-width="0.9"/><path d="M995.0,147.6L995.0,156.7L990.1,156.7Z" fill="#111"/><path d="M965.3,164.7L970.2,173.8L960.4,173.8Z" fill="#fff" stroke="#111" stroke-width="0.9"/><path d="M965.3,164.7L965.3,173.8L960.4,173.8Z" fill="#111"/><path d="M977.9,165.8L982.8,174.9L973.0,174.9Z" fill="#fff" stroke="#111" stroke-width="0.9"/><path d="M977.9,165.8L977.9,174.9L973.0,174.9Z" fill="#111"/><path d="M983.6,164.7L988.5,173.8L978.7,173.8Z" fill="#fff" stroke="#111" stroke-width="0.9"/><path d="M983.6,164.7L983.6,173.8L978.7,173.8Z" fill="#111"/><path d="M996.1,184.0L1001.0,193.1L991.2,193.1Z" fill="#fff" stroke="#111" stroke-width="0.9"/><path d="M996.1,184.0L996.1,193.1L991.2,193.1Z" fill="#111"/><path d="M1001.8,187.5L1006.7,196.6L996.9,196.6Z" fill="#fff" stroke="#111" stroke-width="0.9"/><path d="M1001.8,187.5L1001.8,196.6L996.9,196.6Z" fill="#111"/><path d="M976.7,190.9L981.6,200.0L971.8,200.0Z" fill="#fff" stroke="#111" stroke-width="0.9"/><path d="M976.7,190.9L976.7,200.0L971.8,200.0Z" fill="#111"/><path d="M981.2,176.6L986.1,185.7L976.3,185.7Z" fill="#fff" stroke="#111" stroke-width="0.9"/><path d="M981.2,176.6L981.2,185.7L976.3,185.7Z" fill="#111"/><path d="M976.3,173.1L981.2,182.2L971.4,182.2Z" fill="#fff" stroke="#111" stroke-width="0.9"/><path d="M976.3,173.1L976.3,182.2L971.4,182.2Z" fill="#111"/><polyline points="849.1,164.4 900.4,165.5 919.7,182.6 932.3,189.4 952.8,196.3 971.0,188.3 985.9,190.6 1006.4,216.8 1020.0,217.9 1040.6,236.2 1055.4,251.0 1072.5,256.7" fill="none" stroke="#D02828" stroke-width="1.8"/><path d="M849.1,145.0V184.9M842.9,145.0H855.3M842.9,184.9H855.3" stroke="#E41C1C" stroke-width="2.3" fill="none"/><path d="M900.4,154.1V178.0M894.2,154.1H906.6M894.2,178.0H906.6" stroke="#E41C1C" stroke-width="2.3" fill="none"/><path d="M919.7,168.9V195.1M913.5,168.9H925.9M913.5,195.1H925.9" stroke="#E41C1C" stroke-width="2.3" fill="none"/><path d="M932.3,171.2V208.8M926.1,171.2H938.5M926.1,208.8H938.5" stroke="#E41C1C" stroke-width="2.3" fill="none"/><path d="M952.8,191.7V204.3M946.6,191.7H959.0M946.6,204.3H959.0" stroke="#E41C1C" stroke-width="2.3" fill="none"/><path d="M971.0,167.8V211.1M964.8,167.8H977.2M964.8,211.1H977.2" stroke="#E41C1C" stroke-width="2.3" fill="none"/><path d="M985.9,163.2V216.8M979.7,163.2H992.1M979.7,216.8H992.1" stroke="#E41C1C" stroke-width="2.3" fill="none"/><path d="M1006.4,198.6V231.6M1000.2,198.6H1012.6M1000.2,231.6H1012.6" stroke="#E41C1C" stroke-width="2.3" fill="none"/><path d="M1020.0,197.4V235.0M1013.8,197.4H1026.2M1013.8,235.0H1026.2" stroke="#E41C1C" stroke-width="2.3" fill="none"/><path d="M1040.6,214.5V255.6M1034.4,214.5H1046.8M1034.4,255.6H1046.8" stroke="#E41C1C" stroke-width="2.3" fill="none"/><path d="M1055.4,235.0V269.2M1049.2,235.0H1061.6M1049.2,269.2H1061.6" stroke="#E41C1C" stroke-width="2.3" fill="none"/><path d="M1072.5,239.6V273.8M1066.3,239.6H1078.7M1066.3,273.8H1078.7" stroke="#E41C1C" stroke-width="2.3" fill="none"/><rect x="843.7" y="159.0" width="10.8" height="10.8" fill="#EE0000" stroke="#7a0000" stroke-width="0.9"/><rect x="895.0" y="160.1" width="10.8" height="10.8" fill="#EE0000" stroke="#7a0000" stroke-width="0.9"/><rect x="914.3" y="177.2" width="10.8" height="10.8" fill="#EE0000" stroke="#7a0000" stroke-width="0.9"/><rect x="926.9" y="184.0" width="10.8" height="10.8" fill="#EE0000" stroke="#7a0000" stroke-width="0.9"/><rect x="947.4" y="190.9" width="10.8" height="10.8" fill="#EE0000" stroke="#7a0000" stroke-width="0.9"/><rect x="965.6" y="182.9" width="10.8" height="10.8" fill="#EE0000" stroke="#7a0000" stroke-width="0.9"/><rect x="980.5" y="185.2" width="10.8" height="10.8" fill="#EE0000" stroke="#7a0000" stroke-width="0.9"/><rect x="1001.0" y="211.4" width="10.8" height="10.8" fill="#EE0000" stroke="#7a0000" stroke-width="0.9"/><rect x="1014.6" y="212.5" width="10.8" height="10.8" fill="#EE0000" stroke="#7a0000" stroke-width="0.9"/><rect x="1035.2" y="230.8" width="10.8" height="10.8" fill="#EE0000" stroke="#7a0000" stroke-width="0.9"/><rect x="1050.0" y="245.6" width="10.8" height="10.8" fill="#EE0000" stroke="#7a0000" stroke-width="0.9"/><rect x="1067.1" y="251.3" width="10.8" height="10.8" fill="#EE0000" stroke="#7a0000" stroke-width="0.9"/><path d="M819.6,159.8C826.6,160.8 847.0,162.8 861.6,165.5C876.2,168.2 892.0,171.8 907.2,175.8C922.4,179.8 940.7,185.7 952.8,189.4C964.9,193.1 971.7,194.6 980.0,197.8C988.3,201.0 995.8,205.2 1002.5,208.5C1009.2,211.8 1015.2,214.7 1020.0,217.5C1024.8,220.3 1026.2,221.5 1031.0,225.3C1035.8,229.1 1043.3,235.3 1049.0,240.2C1054.7,245.1 1059.8,249.3 1065.0,254.5C1070.2,259.7 1077.9,268.5 1080.5,271.3" fill="none" stroke="#000" stroke-width="2.8" stroke-linejoin="round"/><path d="M819.6,149.5C830.4,152.3 867.7,161.8 884.4,166.6C901.1,171.3 908.6,173.3 920.0,178.0C931.4,182.7 944.5,192.5 952.8,195.0C961.1,197.5 963.8,194.2 970.0,193.0C976.2,191.8 983.3,186.8 990.0,188.0C996.7,189.2 1001.7,193.8 1010.0,200.0C1018.3,206.2 1031.7,216.7 1040.0,225.0C1048.3,233.3 1053.2,241.2 1060.0,250.0C1066.8,258.8 1077.1,273.3 1080.5,278.0" fill="none" stroke="#F6EE00" stroke-width="2.4" stroke-dasharray="12,5,3.5,4.5"/><path d="M819.6,134.6C821.5,135.4 827.1,137.8 830.9,139.4C834.7,141.0 838.5,142.5 842.3,144.1C846.1,145.7 849.8,147.2 853.6,148.8C857.4,150.4 861.2,151.9 865.0,153.5C868.8,155.1 872.5,156.6 876.3,158.2C880.1,159.8 883.9,161.2 887.7,162.8C891.5,164.4 895.2,165.9 899.0,167.5C902.8,169.1 906.5,170.6 910.3,172.1C914.1,173.6 917.9,175.1 921.7,176.6C925.5,178.1 929.2,179.7 933.0,181.2C936.8,182.7 940.6,184.2 944.4,185.7C948.2,187.2 951.9,188.6 955.7,190.1C959.5,191.6 963.3,193.1 967.1,194.5C970.9,195.9 974.6,197.4 978.4,198.8C982.2,200.2 986.0,201.7 989.8,203.1C993.6,204.5 997.3,205.8 1001.1,207.2C1004.9,208.6 1008.6,210.0 1012.4,211.3C1016.2,212.6 1020.0,213.9 1023.8,215.2C1027.6,216.5 1031.3,217.8 1035.1,219.0C1038.9,220.2 1042.7,221.5 1046.5,222.7C1050.3,223.9 1054.0,225.0 1057.8,226.1C1061.6,227.2 1065.4,228.4 1069.2,229.4C1073.0,230.4 1078.6,231.8 1080.5,232.3" fill="none" stroke="#0A0AD0" stroke-width="3" stroke-dasharray="15,6,3.8,6"/></g><clipPath id="c3"><rect x="113.2" y="366.8" width="282.6" height="253.9"/></clipPath><g clip-path="url(#c3)"><path fill="#80F8F8" d="M113.2,420.1C120.3,421.8 140.9,425.3 155.6,430.4C170.3,435.5 187.1,444.3 201.2,450.9C215.3,457.5 228.5,464.5 240.0,470.0C251.5,475.5 260.0,479.8 270.0,484.0C280.0,488.2 288.8,491.5 300.0,495.0C311.2,498.5 324.6,503.5 337.0,505.0C349.4,506.5 368.3,504.0 374.6,503.8L374.6,564.3C368.4,563.8 348.7,563.0 337.2,561.2C325.7,559.4 316.3,556.4 305.8,553.3C295.3,550.1 284.8,546.2 274.3,542.3C263.8,538.4 253.4,533.9 242.9,529.7C232.4,525.5 221.6,521.7 211.4,517.2C201.2,512.8 191.3,507.6 182.0,503.0C172.7,498.4 167.0,493.8 155.5,489.6C144.0,485.4 120.2,479.9 113.2,478.0Z"/><circle cx="132.8" cy="482.8" r="3.7" fill="#BDBDBD" stroke="#444" stroke-width="0.9"/><circle cx="135.1" cy="489.7" r="3.7" fill="#BDBDBD" stroke="#444" stroke-width="0.9"/><circle cx="157.9" cy="520.5" r="3.7" fill="#BDBDBD" stroke="#444" stroke-width="0.9"/><circle cx="167.0" cy="473.7" r="3.7" fill="#BDBDBD" stroke="#444" stroke-width="0.9"/><circle cx="167.0" cy="507.9" r="3.7" fill="#BDBDBD" stroke="#444" stroke-width="0.9"/><circle cx="173.8" cy="506.8" r="3.7" fill="#BDBDBD" stroke="#444" stroke-width="0.9"/><circle cx="178.4" cy="506.8" r="3.7" fill="#BDBDBD" stroke="#444" stroke-width="0.9"/><circle cx="175.0" cy="496.5" r="3.7" fill="#BDBDBD" stroke="#444" stroke-width="0.9"/><circle cx="181.8" cy="466.9" r="3.7" fill="#BDBDBD" stroke="#444" stroke-width="0.9"/><circle cx="192.1" cy="461.2" r="3.7" fill="#BDBDBD" stroke="#444" stroke-width="0.9"/><circle cx="190.9" cy="462.3" r="3.7" fill="#BDBDBD" stroke="#444" stroke-width="0.9"/><circle cx="196.6" cy="501.1" r="3.7" fill="#BDBDBD" stroke="#444" stroke-width="0.9"/><circle cx="205.8" cy="496.5" r="3.7" fill="#BDBDBD" stroke="#444" stroke-width="0.9"/><circle cx="213.7" cy="498.8" r="3.7" fill="#BDBDBD" stroke="#444" stroke-width="0.9"/><circle cx="219.4" cy="473.7" r="3.7" fill="#BDBDBD" stroke="#444" stroke-width="0.9"/><circle cx="213.7" cy="480.6" r="3.7" fill="#BDBDBD" stroke="#444" stroke-width="0.9"/><circle cx="230.8" cy="482.8" r="3.7" fill="#BDBDBD" stroke="#444" stroke-width="0.9"/><circle cx="230.8" cy="525.0" r="3.7" fill="#BDBDBD" stroke="#444" stroke-width="0.9"/><circle cx="221.7" cy="519.3" r="3.7" fill="#BDBDBD" stroke="#444" stroke-width="0.9"/><circle cx="237.7" cy="519.3" r="3.7" fill="#BDBDBD" stroke="#444" stroke-width="0.9"/><circle cx="246.8" cy="486.3" r="3.7" fill="#BDBDBD" stroke="#444" stroke-width="0.9"/><circle cx="255.9" cy="484.0" r="3.7" fill="#BDBDBD" stroke="#444" stroke-width="0.9"/><circle cx="244.5" cy="535.3" r="3.7" fill="#BDBDBD" stroke="#444" stroke-width="0.9"/><circle cx="251.4" cy="538.7" r="3.7" fill="#BDBDBD" stroke="#444" stroke-width="0.9"/><circle cx="257.1" cy="538.7" r="3.7" fill="#BDBDBD" stroke="#444" stroke-width="0.9"/><circle cx="261.6" cy="537.6" r="3.7" fill="#BDBDBD" stroke="#444" stroke-width="0.9"/><circle cx="255.9" cy="546.7" r="3.7" fill="#BDBDBD" stroke="#444" stroke-width="0.9"/><circle cx="269.6" cy="435.0" r="3.7" fill="#BDBDBD" stroke="#444" stroke-width="0.9"/><circle cx="258.2" cy="519.3" r="3.7" fill="#BDBDBD" stroke="#444" stroke-width="0.9"/><circle cx="246.8" cy="517.0" r="3.7" fill="#BDBDBD" stroke="#444" stroke-width="0.9"/><circle cx="255.9" cy="526.2" r="3.7" fill="#BDBDBD" stroke="#444" stroke-width="0.9"/><circle cx="269.6" cy="512.5" r="3.7" fill="#BDBDBD" stroke="#444" stroke-width="0.9"/><circle cx="228.6" cy="503.4" r="3.7" fill="#BDBDBD" stroke="#444" stroke-width="0.9"/><circle cx="200.0" cy="477.0" r="3.7" fill="#BDBDBD" stroke="#444" stroke-width="0.9"/><circle cx="230.4" cy="486.9" r="3.7" fill="#BDBDBD" stroke="#444" stroke-width="0.9"/><circle cx="250.3" cy="490.5" r="3.7" fill="#BDBDBD" stroke="#444" stroke-width="0.9"/><circle cx="207.0" cy="502.5" r="3.7" fill="#BDBDBD" stroke="#444" stroke-width="0.9"/><circle cx="208.5" cy="508.9" r="3.7" fill="#BDBDBD" stroke="#444" stroke-width="0.9"/><circle cx="212.7" cy="515.3" r="3.7" fill="#BDBDBD" stroke="#444" stroke-width="0.9"/><circle cx="221.9" cy="511.7" r="3.7" fill="#BDBDBD" stroke="#444" stroke-width="0.9"/><circle cx="230.4" cy="515.3" r="3.7" fill="#BDBDBD" stroke="#444" stroke-width="0.9"/><circle cx="237.5" cy="511.0" r="3.7" fill="#BDBDBD" stroke="#444" stroke-width="0.9"/><circle cx="241.1" cy="500.4" r="3.7" fill="#BDBDBD" stroke="#444" stroke-width="0.9"/><circle cx="248.9" cy="526.6" r="3.7" fill="#BDBDBD" stroke="#444" stroke-width="0.9"/><path d="M212.6,474.0L217.5,483.1L207.7,483.1Z" fill="#7B7B7B" stroke="#222" stroke-width="0.9"/><path d="M255.9,478.6L260.8,487.7L251.0,487.7Z" fill="#7B7B7B" stroke="#222" stroke-width="0.9"/><path d="M270.7,471.7L275.6,480.8L265.8,480.8Z" fill="#7B7B7B" stroke="#222" stroke-width="0.9"/><path d="M286.7,472.9L291.6,482.0L281.8,482.0Z" fill="#7B7B7B" stroke="#222" stroke-width="0.9"/><path d="M300.4,478.6L305.3,487.7L295.5,487.7Z" fill="#7B7B7B" stroke="#222" stroke-width="0.9"/><path d="M307.2,483.1L312.1,492.2L302.3,492.2Z" fill="#7B7B7B" stroke="#222" stroke-width="0.9"/><path d="M317.5,468.3L322.4,477.4L312.6,477.4Z" fill="#7B7B7B" stroke="#222" stroke-width="0.9"/><path d="M324.3,483.1L329.2,492.2L319.4,492.2Z" fill="#7B7B7B" stroke="#222" stroke-width="0.9"/><path d="M328.9,488.8L333.8,497.9L324.0,497.9Z" fill="#7B7B7B" stroke="#222" stroke-width="0.9"/><path d="M341.4,477.4L346.3,486.5L336.5,486.5Z" fill="#7B7B7B" stroke="#222" stroke-width="0.9"/><path d="M344.8,470.6L349.7,479.7L339.9,479.7Z" fill="#7B7B7B" stroke="#222" stroke-width="0.9"/><path d="M340.3,496.8L345.2,505.9L335.4,505.9Z" fill="#7B7B7B" stroke="#222" stroke-width="0.9"/><path d="M341.4,504.8L346.3,513.9L336.5,513.9Z" fill="#7B7B7B" stroke="#222" stroke-width="0.9"/><path d="M349.4,507.1L354.3,516.2L344.5,516.2Z" fill="#7B7B7B" stroke="#222" stroke-width="0.9"/><path d="M355.1,509.4L360.0,518.5L350.2,518.5Z" fill="#7B7B7B" stroke="#222" stroke-width="0.9"/><path d="M361.9,517.3L366.8,526.4L357.0,526.4Z" fill="#7B7B7B" stroke="#222" stroke-width="0.9"/><path d="M371.1,519.6L376.0,528.7L366.2,528.7Z" fill="#7B7B7B" stroke="#222" stroke-width="0.9"/><path d="M372.2,543.6L377.1,552.7L367.3,552.7Z" fill="#7B7B7B" stroke="#222" stroke-width="0.9"/><path d="M369.9,561.8L374.8,570.9L365.0,570.9Z" fill="#7B7B7B" stroke="#222" stroke-width="0.9"/><path d="M367.6,580.0L372.5,589.1L362.7,589.1Z" fill="#7B7B7B" stroke="#222" stroke-width="0.9"/><path d="M358.5,568.6L363.4,577.7L353.6,577.7Z" fill="#7B7B7B" stroke="#222" stroke-width="0.9"/><path d="M356.2,557.2L361.1,566.3L351.3,566.3Z" fill="#7B7B7B" stroke="#222" stroke-width="0.9"/><path d="M344.8,555.0L349.7,564.1L339.9,564.1Z" fill="#7B7B7B" stroke="#222" stroke-width="0.9"/><path d="M342.6,534.4L347.5,543.5L337.7,543.5Z" fill="#7B7B7B" stroke="#222" stroke-width="0.9"/><path d="M338.0,529.9L342.9,539.0L333.1,539.0Z" fill="#7B7B7B" stroke="#222" stroke-width="0.9"/><path d="M334.6,543.6L339.5,552.7L329.7,552.7Z" fill="#7B7B7B" stroke="#222" stroke-width="0.9"/><path d="M326.6,539.0L331.5,548.1L321.7,548.1Z" fill="#7B7B7B" stroke="#222" stroke-width="0.9"/><path d="M310.6,542.4L315.5,551.5L305.7,551.5Z" fill="#7B7B7B" stroke="#222" stroke-width="0.9"/><path d="M306.1,529.9L311.0,539.0L301.2,539.0Z" fill="#7B7B7B" stroke="#222" stroke-width="0.9"/><path d="M297.0,527.6L301.9,536.7L292.1,536.7Z" fill="#7B7B7B" stroke="#222" stroke-width="0.9"/><path d="M292.4,520.8L297.3,529.9L287.5,529.9Z" fill="#7B7B7B" stroke="#222" stroke-width="0.9"/><path d="M301.5,516.2L306.4,525.3L296.6,525.3Z" fill="#7B7B7B" stroke="#222" stroke-width="0.9"/><path d="M310.6,516.2L315.5,525.3L305.7,525.3Z" fill="#7B7B7B" stroke="#222" stroke-width="0.9"/><path d="M319.8,525.3L324.7,534.4L314.9,534.4Z" fill="#7B7B7B" stroke="#222" stroke-width="0.9"/><path d="M326.6,513.9L331.5,523.0L321.7,523.0Z" fill="#7B7B7B" stroke="#222" stroke-width="0.9"/><path d="M274.2,472.9L279.1,482.0L269.3,482.0Z" fill="#7B7B7B" stroke="#222" stroke-width="0.9"/><path d="M285.6,484.3L290.5,493.4L280.7,493.4Z" fill="#7B7B7B" stroke="#222" stroke-width="0.9"/><path d="M312.9,495.7L317.8,504.8L308.0,504.8Z" fill="#7B7B7B" stroke="#222" stroke-width="0.9"/><path d="M319.8,500.2L324.7,509.3L314.9,509.3Z" fill="#7B7B7B" stroke="#222" stroke-width="0.9"/><path d="M351.7,513.9L356.6,523.0L346.8,523.0Z" fill="#7B7B7B" stroke="#222" stroke-width="0.9"/><path d="M356.2,525.3L361.1,534.4L351.3,534.4Z" fill="#7B7B7B" stroke="#222" stroke-width="0.9"/><path d="M214.1,504.2L219.0,513.3L209.2,513.3Z" fill="#7B7B7B" stroke="#222" stroke-width="0.9"/><path d="M257.4,509.9L262.3,519.0L252.5,519.0Z" fill="#7B7B7B" stroke="#222" stroke-width="0.9"/><path d="M316.8,486.6L321.7,495.7L311.9,495.7Z" fill="#7B7B7B" stroke="#222" stroke-width="0.9"/><path d="M328.6,508.6L333.5,517.7L323.7,517.7Z" fill="#7B7B7B" stroke="#222" stroke-width="0.9"/><path d="M350.6,518.1L355.5,527.2L345.7,527.2Z" fill="#7B7B7B" stroke="#222" stroke-width="0.9"/><path d="M344.3,520.4L349.2,529.5L339.4,529.5Z" fill="#7B7B7B" stroke="#222" stroke-width="0.9"/><path d="M316.8,529.1L321.7,538.2L311.9,538.2Z" fill="#7B7B7B" stroke="#222" stroke-width="0.9"/><path d="M323.9,529.1L328.8,538.2L319.0,538.2Z" fill="#7B7B7B" stroke="#222" stroke-width="0.9"/><path d="M338.8,541.6L343.7,550.7L333.9,550.7Z" fill="#7B7B7B" stroke="#222" stroke-width="0.9"/><path d="M345.1,549.5L350.0,558.6L340.2,558.6Z" fill="#7B7B7B" stroke="#222" stroke-width="0.9"/><path d="M343.5,558.9L348.4,568.0L338.6,568.0Z" fill="#7B7B7B" stroke="#222" stroke-width="0.9"/><path d="M356.1,565.2L361.0,574.3L351.2,574.3Z" fill="#7B7B7B" stroke="#222" stroke-width="0.9"/><path d="M360.0,562.1L364.9,571.2L355.1,571.2Z" fill="#7B7B7B" stroke="#222" stroke-width="0.9"/><path d="M288.5,508.6L293.4,517.7L283.6,517.7Z" fill="#7B7B7B" stroke="#222" stroke-width="0.9"/><path d="M283.8,475.6L288.7,484.7L278.9,484.7Z" fill="#7B7B7B" stroke="#222" stroke-width="0.9"/><path d="M280.6,485.0L285.5,494.1L275.7,494.1Z" fill="#7B7B7B" stroke="#222" stroke-width="0.9"/><path d="M270.4,502.3L275.3,511.4L265.5,511.4Z" fill="#7B7B7B" stroke="#222" stroke-width="0.9"/><circle cx="270.7" cy="411.7" r="3.7" fill="#fff" stroke="#111" stroke-width="0.9"/><path d="M270.7,408.0A3.7,3.7 0 0 0 270.7,415.4Z" fill="#111"/><circle cx="267.3" cy="457.8" r="3.7" fill="#fff" stroke="#111" stroke-width="0.9"/><path d="M267.3,454.1A3.7,3.7 0 0 0 267.3,461.5Z" fill="#111"/><circle cx="255.9" cy="521.6" r="3.7" fill="#fff" stroke="#111" stroke-width="0.9"/><path d="M255.9,517.9A3.7,3.7 0 0 0 255.9,525.3Z" fill="#111"/><path d="M270.7,451.2L275.6,460.3L265.8,460.3Z" fill="#fff" stroke="#111" stroke-width="0.9"/><path d="M270.7,451.2L270.7,460.3L265.8,460.3Z" fill="#111"/><path d="M287.8,448.9L292.7,458.0L282.9,458.0Z" fill="#fff" stroke="#111" stroke-width="0.9"/><path d="M287.8,448.9L287.8,458.0L282.9,458.0Z" fill="#111"/><path d="M276.4,460.3L281.3,469.4L271.5,469.4Z" fill="#fff" stroke="#111" stroke-width="0.9"/><path d="M276.4,460.3L276.4,469.4L271.5,469.4Z" fill="#111"/><path d="M277.6,466.0L282.5,475.1L272.7,475.1Z" fill="#fff" stroke="#111" stroke-width="0.9"/><path d="M277.6,466.0L277.6,475.1L272.7,475.1Z" fill="#111"/><path d="M267.3,480.9L272.2,490.0L262.4,490.0Z" fill="#fff" stroke="#111" stroke-width="0.9"/><path d="M267.3,480.9L267.3,490.0L262.4,490.0Z" fill="#111"/><path d="M253.6,485.4L258.5,494.5L248.7,494.5Z" fill="#fff" stroke="#111" stroke-width="0.9"/><path d="M253.6,485.4L253.6,494.5L248.7,494.5Z" fill="#111"/><path d="M295.8,470.6L300.7,479.7L290.9,479.7Z" fill="#fff" stroke="#111" stroke-width="0.9"/><path d="M295.8,470.6L295.8,479.7L290.9,479.7Z" fill="#111"/><path d="M290.1,491.1L295.0,500.2L285.2,500.2Z" fill="#fff" stroke="#111" stroke-width="0.9"/><path d="M290.1,491.1L290.1,500.2L285.2,500.2Z" fill="#111"/><path d="M274.2,502.5L279.1,511.6L269.3,511.6Z" fill="#fff" stroke="#111" stroke-width="0.9"/><path d="M274.2,502.5L274.2,511.6L269.3,511.6Z" fill="#111"/><path d="M253.1,516.3L258.0,525.4L248.2,525.4Z" fill="#fff" stroke="#111" stroke-width="0.9"/><path d="M253.1,516.3L253.1,525.4L248.2,525.4Z" fill="#111"/><polyline points="143.1,492.0 193.2,481.7 213.7,498.8 226.3,502.2 245.7,510.2 263.9,501.1 279.9,496.5 299.2,510.2 312.9,514.8 334.6,521.6 349.4,544.4 366.5,555.8" fill="none" stroke="#D02828" stroke-width="1.8"/><path d="M143.1,479.4V506.8M136.9,479.4H149.3M136.9,506.8H149.3" stroke="#E41C1C" stroke-width="2.3" fill="none"/><path d="M193.2,469.2V494.2M187.0,469.2H199.4M187.0,494.2H199.4" stroke="#E41C1C" stroke-width="2.3" fill="none"/><path d="M213.7,488.5V512.5M207.5,488.5H219.9M207.5,512.5H219.9" stroke="#E41C1C" stroke-width="2.3" fill="none"/><path d="M226.3,488.5V513.6M220.1,488.5H232.5M220.1,513.6H232.5" stroke="#E41C1C" stroke-width="2.3" fill="none"/><path d="M245.7,501.1V523.9M239.5,501.1H251.9M239.5,523.9H251.9" stroke="#E41C1C" stroke-width="2.3" fill="none"/><path d="M263.9,471.4V531.9M257.7,471.4H270.1M257.7,531.9H270.1" stroke="#E41C1C" stroke-width="2.3" fill="none"/><path d="M279.9,477.1V512.5M273.7,477.1H286.1M273.7,512.5H286.1" stroke="#E41C1C" stroke-width="2.3" fill="none"/><path d="M299.2,496.5V521.6M293.0,496.5H305.4M293.0,521.6H305.4" stroke="#E41C1C" stroke-width="2.3" fill="none"/><path d="M312.9,498.8V526.2M306.7,498.8H319.1M306.7,526.2H319.1" stroke="#E41C1C" stroke-width="2.3" fill="none"/><path d="M334.6,506.8V533.0M328.4,506.8H340.8M328.4,533.0H340.8" stroke="#E41C1C" stroke-width="2.3" fill="none"/><path d="M349.4,521.6V564.9M343.2,521.6H355.6M343.2,564.9H355.6" stroke="#E41C1C" stroke-width="2.3" fill="none"/><path d="M366.5,538.7V576.3M360.3,538.7H372.7M360.3,576.3H372.7" stroke="#E41C1C" stroke-width="2.3" fill="none"/><rect x="137.7" y="486.6" width="10.8" height="10.8" fill="#EE0000" stroke="#7a0000" stroke-width="0.9"/><rect x="187.8" y="476.3" width="10.8" height="10.8" fill="#EE0000" stroke="#7a0000" stroke-width="0.9"/><rect x="208.3" y="493.4" width="10.8" height="10.8" fill="#EE0000" stroke="#7a0000" stroke-width="0.9"/><rect x="220.9" y="496.8" width="10.8" height="10.8" fill="#EE0000" stroke="#7a0000" stroke-width="0.9"/><rect x="240.3" y="504.8" width="10.8" height="10.8" fill="#EE0000" stroke="#7a0000" stroke-width="0.9"/><rect x="258.5" y="495.7" width="10.8" height="10.8" fill="#EE0000" stroke="#7a0000" stroke-width="0.9"/><rect x="274.5" y="491.1" width="10.8" height="10.8" fill="#EE0000" stroke="#7a0000" stroke-width="0.9"/><rect x="293.8" y="504.8" width="10.8" height="10.8" fill="#EE0000" stroke="#7a0000" stroke-width="0.9"/><rect x="307.5" y="509.4" width="10.8" height="10.8" fill="#EE0000" stroke="#7a0000" stroke-width="0.9"/><rect x="329.2" y="516.2" width="10.8" height="10.8" fill="#EE0000" stroke="#7a0000" stroke-width="0.9"/><rect x="344.0" y="539.0" width="10.8" height="10.8" fill="#EE0000" stroke="#7a0000" stroke-width="0.9"/><rect x="361.1" y="550.4" width="10.8" height="10.8" fill="#EE0000" stroke="#7a0000" stroke-width="0.9"/><path d="M113.2,497.7C119.3,497.4 138.9,496.2 150.0,495.8C161.1,495.4 170.0,495.3 180.0,495.4C190.0,495.5 199.5,495.8 210.0,496.5C220.5,497.2 232.3,498.7 243.0,499.8C253.7,500.9 266.5,501.9 274.3,503.0C282.1,504.1 284.8,505.1 290.0,506.5C295.2,507.9 300.8,509.4 305.8,511.2C310.8,513.0 314.8,514.7 320.0,517.5C325.2,520.3 331.7,524.2 337.2,527.8C342.7,531.4 348.5,535.5 353.0,539.0C357.5,542.5 360.4,545.3 364.0,549.0C367.6,552.7 372.8,559.2 374.5,561.3" fill="none" stroke="#000" stroke-width="2.8" stroke-linejoin="round"/><path d="M113.2,478.3C124.1,480.8 161.8,489.3 178.4,493.1C195.0,496.9 201.2,498.2 212.6,501.1C224.0,504.0 234.3,512.7 246.8,510.2C259.3,507.7 276.4,487.4 287.8,486.3C299.2,485.2 306.8,496.8 315.2,503.4C323.6,510.0 330.4,518.2 338.0,526.2C345.6,534.2 355.1,543.6 360.8,551.2C366.5,558.8 370.3,568.4 372.2,571.8" fill="none" stroke="#F6EE00" stroke-width="2.4" stroke-dasharray="12,5,3.5,4.5"/><path d="M113.2,448.6C124.1,452.4 159.9,464.2 178.4,471.4C196.9,478.6 208.8,485.5 224.0,492.0C239.2,498.5 254.4,504.1 269.6,510.2C284.8,516.3 303.8,524.6 315.2,528.4C326.6,532.2 328.1,532.4 338.0,533.0C347.9,533.6 368.4,532.1 374.5,531.9" fill="none" stroke="#0A0AD0" stroke-width="3" stroke-dasharray="15,6,3.8,6"/></g><clipPath id="c4"><rect x="466.4" y="366.8" width="282.6" height="253.9"/></clipPath><g clip-path="url(#c4)"><path fill="#80F8F8" d="M466.4,411.7C473.4,413.5 494.0,417.4 508.6,422.4C523.2,427.4 539.0,434.8 554.2,441.8C569.4,448.8 584.6,456.6 599.8,464.6C615.0,472.6 630.2,483.7 645.4,489.7C660.6,495.7 681.1,498.6 691.0,500.5C700.9,502.4 698.4,501.8 704.5,501.4C710.6,501.0 723.7,498.9 727.5,498.4L727.5,559.4C721.7,559.2 703.9,559.8 692.6,558.5C681.4,557.2 668.6,553.9 660.0,551.4C651.4,548.9 647.8,546.6 641.0,543.7C634.2,540.8 626.3,537.3 619.0,533.8C611.7,530.3 604.3,526.3 597.0,522.8C589.7,519.3 582.3,516.4 575.0,512.9C567.7,509.4 562.2,506.1 553.0,501.9C543.8,497.7 530.5,491.8 520.0,487.6C509.5,483.4 498.9,479.2 490.0,476.5C481.1,473.8 470.3,472.3 466.4,471.5Z"/><circle cx="553.7" cy="416.3" r="3.7" fill="#BDBDBD" stroke="#444" stroke-width="0.9"/><circle cx="569.0" cy="424.7" r="3.7" fill="#BDBDBD" stroke="#444" stroke-width="0.9"/><circle cx="569.0" cy="430.4" r="3.7" fill="#BDBDBD" stroke="#444" stroke-width="0.9"/><circle cx="549.6" cy="425.8" r="3.7" fill="#BDBDBD" stroke="#444" stroke-width="0.9"/><circle cx="531.4" cy="441.8" r="3.7" fill="#BDBDBD" stroke="#444" stroke-width="0.9"/><circle cx="536.0" cy="448.6" r="3.7" fill="#BDBDBD" stroke="#444" stroke-width="0.9"/><circle cx="521.1" cy="482.4" r="3.7" fill="#BDBDBD" stroke="#444" stroke-width="0.9"/><circle cx="528.0" cy="481.7" r="3.7" fill="#BDBDBD" stroke="#444" stroke-width="0.9"/><circle cx="551.9" cy="485.1" r="3.7" fill="#BDBDBD" stroke="#444" stroke-width="0.9"/><circle cx="562.2" cy="504.5" r="3.7" fill="#BDBDBD" stroke="#444" stroke-width="0.9"/><circle cx="565.6" cy="447.5" r="3.7" fill="#BDBDBD" stroke="#444" stroke-width="0.9"/><circle cx="572.4" cy="447.5" r="3.7" fill="#BDBDBD" stroke="#444" stroke-width="0.9"/><circle cx="580.4" cy="446.4" r="3.7" fill="#BDBDBD" stroke="#444" stroke-width="0.9"/><circle cx="591.8" cy="448.6" r="3.7" fill="#BDBDBD" stroke="#444" stroke-width="0.9"/><circle cx="594.1" cy="439.5" r="3.7" fill="#BDBDBD" stroke="#444" stroke-width="0.9"/><circle cx="590.7" cy="457.8" r="3.7" fill="#BDBDBD" stroke="#444" stroke-width="0.9"/><circle cx="595.2" cy="476.0" r="3.7" fill="#BDBDBD" stroke="#444" stroke-width="0.9"/><circle cx="604.4" cy="473.7" r="3.7" fill="#BDBDBD" stroke="#444" stroke-width="0.9"/><circle cx="583.8" cy="477.1" r="3.7" fill="#BDBDBD" stroke="#444" stroke-width="0.9"/><circle cx="615.8" cy="514.8" r="3.7" fill="#BDBDBD" stroke="#444" stroke-width="0.9"/><circle cx="620.3" cy="453.2" r="3.7" fill="#BDBDBD" stroke="#444" stroke-width="0.9"/><circle cx="615.8" cy="494.2" r="3.7" fill="#BDBDBD" stroke="#444" stroke-width="0.9"/><circle cx="608.9" cy="480.6" r="3.7" fill="#BDBDBD" stroke="#444" stroke-width="0.9"/><circle cx="623.3" cy="390.5" r="3.7" fill="#BDBDBD" stroke="#444" stroke-width="0.9"/><path d="M543.9,429.6L548.8,438.7L539.0,438.7Z" fill="#7B7B7B" stroke="#222" stroke-width="0.9"/><path d="M573.6,423.9L578.5,433.0L568.7,433.0Z" fill="#7B7B7B" stroke="#222" stroke-width="0.9"/><path d="M597.5,423.9L602.4,433.0L592.6,433.0Z" fill="#7B7B7B" stroke="#222" stroke-width="0.9"/><path d="M542.8,460.3L547.7,469.4L537.9,469.4Z" fill="#7B7B7B" stroke="#222" stroke-width="0.9"/><path d="M543.9,468.3L548.8,477.4L539.0,477.4Z" fill="#7B7B7B" stroke="#222" stroke-width="0.9"/><path d="M578.1,479.7L583.0,488.8L573.2,488.8Z" fill="#7B7B7B" stroke="#222" stroke-width="0.9"/><path d="M624.9,513.9L629.8,523.0L620.0,523.0Z" fill="#7B7B7B" stroke="#222" stroke-width="0.9"/><path d="M627.2,502.5L632.1,511.6L622.3,511.6Z" fill="#7B7B7B" stroke="#222" stroke-width="0.9"/><path d="M656.8,447.8L661.7,456.9L651.9,456.9Z" fill="#7B7B7B" stroke="#222" stroke-width="0.9"/><path d="M656.8,458.1L661.7,467.2L651.9,467.2Z" fill="#7B7B7B" stroke="#222" stroke-width="0.9"/><path d="M661.4,466.0L666.3,475.1L656.5,475.1Z" fill="#7B7B7B" stroke="#222" stroke-width="0.9"/><path d="M650.0,468.3L654.9,477.4L645.1,477.4Z" fill="#7B7B7B" stroke="#222" stroke-width="0.9"/><path d="M681.9,469.5L686.8,478.6L677.0,478.6Z" fill="#7B7B7B" stroke="#222" stroke-width="0.9"/><path d="M677.3,477.4L682.2,486.5L672.4,486.5Z" fill="#7B7B7B" stroke="#222" stroke-width="0.9"/><path d="M671.6,480.9L676.5,490.0L666.7,490.0Z" fill="#7B7B7B" stroke="#222" stroke-width="0.9"/><path d="M679.6,493.4L684.5,502.5L674.7,502.5Z" fill="#7B7B7B" stroke="#222" stroke-width="0.9"/><path d="M695.6,498.0L700.5,507.1L690.7,507.1Z" fill="#7B7B7B" stroke="#222" stroke-width="0.9"/><path d="M708.1,492.7L713.0,501.8L703.2,501.8Z" fill="#7B7B7B" stroke="#222" stroke-width="0.9"/><path d="M697.8,507.1L702.7,516.2L692.9,516.2Z" fill="#7B7B7B" stroke="#222" stroke-width="0.9"/><path d="M688.7,513.9L693.6,523.0L683.8,523.0Z" fill="#7B7B7B" stroke="#222" stroke-width="0.9"/><path d="M686.4,525.3L691.3,534.4L681.5,534.4Z" fill="#7B7B7B" stroke="#222" stroke-width="0.9"/><path d="M689.9,536.7L694.8,545.8L685.0,545.8Z" fill="#7B7B7B" stroke="#222" stroke-width="0.9"/><path d="M695.6,541.3L700.5,550.4L690.7,550.4Z" fill="#7B7B7B" stroke="#222" stroke-width="0.9"/><path d="M700.1,550.4L705.0,559.5L695.2,559.5Z" fill="#7B7B7B" stroke="#222" stroke-width="0.9"/><path d="M709.2,545.8L714.1,554.9L704.3,554.9Z" fill="#7B7B7B" stroke="#222" stroke-width="0.9"/><path d="M713.8,520.8L718.7,529.9L708.9,529.9Z" fill="#7B7B7B" stroke="#222" stroke-width="0.9"/><path d="M724.1,524.2L729.0,533.3L719.2,533.3Z" fill="#7B7B7B" stroke="#222" stroke-width="0.9"/><path d="M725.2,536.7L730.1,545.8L720.3,545.8Z" fill="#7B7B7B" stroke="#222" stroke-width="0.9"/><path d="M725.2,552.7L730.1,561.8L720.3,561.8Z" fill="#7B7B7B" stroke="#222" stroke-width="0.9"/><path d="M720.6,567.5L725.5,576.6L715.7,576.6Z" fill="#7B7B7B" stroke="#222" stroke-width="0.9"/><path d="M708.1,568.6L713.0,577.7L703.2,577.7Z" fill="#7B7B7B" stroke="#222" stroke-width="0.9"/><path d="M712.7,567.5L717.6,576.6L707.8,576.6Z" fill="#7B7B7B" stroke="#222" stroke-width="0.9"/><path d="M717.2,578.9L722.1,588.0L712.3,588.0Z" fill="#7B7B7B" stroke="#222" stroke-width="0.9"/><path d="M668.2,524.2L673.1,533.3L663.3,533.3Z" fill="#7B7B7B" stroke="#222" stroke-width="0.9"/><path d="M656.8,520.8L661.7,529.9L651.9,529.9Z" fill="#7B7B7B" stroke="#222" stroke-width="0.9"/><path d="M647.7,513.9L652.6,523.0L642.8,523.0Z" fill="#7B7B7B" stroke="#222" stroke-width="0.9"/><path d="M638.6,493.4L643.5,502.5L633.7,502.5Z" fill="#7B7B7B" stroke="#222" stroke-width="0.9"/><path d="M645.4,487.7L650.3,496.8L640.5,496.8Z" fill="#7B7B7B" stroke="#222" stroke-width="0.9"/><path d="M659.1,495.7L664.0,504.8L654.2,504.8Z" fill="#7B7B7B" stroke="#222" stroke-width="0.9"/><path d="M668.2,498.0L673.1,507.1L663.3,507.1Z" fill="#7B7B7B" stroke="#222" stroke-width="0.9"/><path d="M677.3,520.8L682.2,529.9L672.4,529.9Z" fill="#7B7B7B" stroke="#222" stroke-width="0.9"/><path d="M681.9,504.8L686.8,513.9L677.0,513.9Z" fill="#7B7B7B" stroke="#222" stroke-width="0.9"/><path d="M691.0,502.5L695.9,511.6L686.1,511.6Z" fill="#7B7B7B" stroke="#222" stroke-width="0.9"/><path d="M665.9,479.7L670.8,488.8L661.0,488.8Z" fill="#7B7B7B" stroke="#222" stroke-width="0.9"/><path d="M675.0,488.8L679.9,497.9L670.1,497.9Z" fill="#7B7B7B" stroke="#222" stroke-width="0.9"/><path d="M683.2,498.4L688.1,507.5L678.3,507.5Z" fill="#7B7B7B" stroke="#222" stroke-width="0.9"/><path d="M697.4,501.9L702.3,511.0L692.5,511.0Z" fill="#7B7B7B" stroke="#222" stroke-width="0.9"/><path d="M692.6,507.8L697.5,516.9L687.7,516.9Z" fill="#7B7B7B" stroke="#222" stroke-width="0.9"/><path d="M697.4,547.9L702.3,557.0L692.5,557.0Z" fill="#7B7B7B" stroke="#222" stroke-width="0.9"/><path d="M706.8,543.2L711.7,552.3L701.9,552.3Z" fill="#7B7B7B" stroke="#222" stroke-width="0.9"/><path d="M711.5,536.1L716.4,545.2L706.6,545.2Z" fill="#7B7B7B" stroke="#222" stroke-width="0.9"/><path d="M680.8,473.6L685.7,482.7L675.9,482.7Z" fill="#7B7B7B" stroke="#222" stroke-width="0.9"/><path d="M641.1,503.1L646.0,512.2L636.2,512.2Z" fill="#7B7B7B" stroke="#222" stroke-width="0.9"/><circle cx="624.4" cy="379.8" r="3.7" fill="#fff" stroke="#111" stroke-width="0.9"/><path d="M624.4,376.1A3.7,3.7 0 0 0 624.4,383.5Z" fill="#111"/><path d="M602.1,426.1L607.0,435.2L597.2,435.2Z" fill="#fff" stroke="#111" stroke-width="0.9"/><path d="M602.1,426.1L602.1,435.2L597.2,435.2Z" fill="#111"/><path d="M612.3,433.0L617.2,442.1L607.4,442.1Z" fill="#fff" stroke="#111" stroke-width="0.9"/><path d="M612.3,433.0L612.3,442.1L607.4,442.1Z" fill="#111"/><path d="M640.8,441.0L645.7,450.1L635.9,450.1Z" fill="#fff" stroke="#111" stroke-width="0.9"/><path d="M640.8,441.0L640.8,450.1L635.9,450.1Z" fill="#111"/><path d="M631.7,453.5L636.6,462.6L626.8,462.6Z" fill="#fff" stroke="#111" stroke-width="0.9"/><path d="M631.7,453.5L631.7,462.6L626.8,462.6Z" fill="#111"/><path d="M622.6,455.8L627.5,464.9L617.7,464.9Z" fill="#fff" stroke="#111" stroke-width="0.9"/><path d="M622.6,455.8L622.6,464.9L617.7,464.9Z" fill="#111"/><path d="M648.8,461.5L653.7,470.6L643.9,470.6Z" fill="#fff" stroke="#111" stroke-width="0.9"/><path d="M648.8,461.5L648.8,470.6L643.9,470.6Z" fill="#111"/><path d="M604.4,477.4L609.3,486.5L599.5,486.5Z" fill="#fff" stroke="#111" stroke-width="0.9"/><path d="M604.4,477.4L604.4,486.5L599.5,486.5Z" fill="#111"/><path d="M614.6,479.7L619.5,488.8L609.7,488.8Z" fill="#fff" stroke="#111" stroke-width="0.9"/><path d="M614.6,479.7L614.6,488.8L609.7,488.8Z" fill="#111"/><path d="M624.9,479.7L629.8,488.8L620.0,488.8Z" fill="#fff" stroke="#111" stroke-width="0.9"/><path d="M624.9,479.7L624.9,488.8L620.0,488.8Z" fill="#111"/><path d="M626.0,492.3L630.9,501.4L621.1,501.4Z" fill="#fff" stroke="#111" stroke-width="0.9"/><path d="M626.0,492.3L626.0,501.4L621.1,501.4Z" fill="#111"/><polyline points="492.2,463.5 547.4,450.9 566.7,461.2 580.4,465.7 599.8,465.7 619.2,469.2 632.9,486.3 653.4,494.2 667.1,499.9 687.6,515.9 703.5,541.0 719.5,550.1" fill="none" stroke="#D02828" stroke-width="1.8"/><path d="M547.4,425.8V474.9M541.2,425.8H553.6M541.2,474.9H553.6" stroke="#E41C1C" stroke-width="2.3" fill="none"/><path d="M566.7,437.2V485.1M560.5,437.2H572.9M560.5,485.1H572.9" stroke="#E41C1C" stroke-width="2.3" fill="none"/><path d="M580.4,447.5V482.8M574.2,447.5H586.6M574.2,482.8H586.6" stroke="#E41C1C" stroke-width="2.3" fill="none"/><path d="M599.8,442.9V487.4M593.6,442.9H606.0M593.6,487.4H606.0" stroke="#E41C1C" stroke-width="2.3" fill="none"/><path d="M619.2,433.8V507.9M613.0,433.8H625.4M613.0,507.9H625.4" stroke="#E41C1C" stroke-width="2.3" fill="none"/><path d="M632.9,468.0V501.1M626.7,468.0H639.1M626.7,501.1H639.1" stroke="#E41C1C" stroke-width="2.3" fill="none"/><path d="M653.4,477.1V512.5M647.2,477.1H659.6M647.2,512.5H659.6" stroke="#E41C1C" stroke-width="2.3" fill="none"/><path d="M667.1,489.7V513.6M660.9,489.7H673.3M660.9,513.6H673.3" stroke="#E41C1C" stroke-width="2.3" fill="none"/><path d="M687.6,498.8V534.1M681.4,498.8H693.8M681.4,534.1H693.8" stroke="#E41C1C" stroke-width="2.3" fill="none"/><path d="M703.5,523.9V558.1M697.3,523.9H709.7M697.3,558.1H709.7" stroke="#E41C1C" stroke-width="2.3" fill="none"/><path d="M719.5,533.0V568.3M713.3,533.0H725.7M713.3,568.3H725.7" stroke="#E41C1C" stroke-width="2.3" fill="none"/><rect x="486.8" y="458.1" width="10.8" height="10.8" fill="#EE0000" stroke="#7a0000" stroke-width="0.9"/><rect x="542.0" y="445.5" width="10.8" height="10.8" fill="#EE0000" stroke="#7a0000" stroke-width="0.9"/><rect x="561.3" y="455.8" width="10.8" height="10.8" fill="#EE0000" stroke="#7a0000" stroke-width="0.9"/><rect x="575.0" y="460.3" width="10.8" height="10.8" fill="#EE0000" stroke="#7a0000" stroke-width="0.9"/><rect x="594.4" y="460.3" width="10.8" height="10.8" fill="#EE0000" stroke="#7a0000" stroke-width="0.9"/><rect x="613.8" y="463.8" width="10.8" height="10.8" fill="#EE0000" stroke="#7a0000" stroke-width="0.9"/><rect x="627.5" y="480.9" width="10.8" height="10.8" fill="#EE0000" stroke="#7a0000" stroke-width="0.9"/><rect x="648.0" y="488.8" width="10.8" height="10.8" fill="#EE0000" stroke="#7a0000" stroke-width="0.9"/><rect x="661.7" y="494.5" width="10.8" height="10.8" fill="#EE0000" stroke="#7a0000" stroke-width="0.9"/><rect x="682.2" y="510.5" width="10.8" height="10.8" fill="#EE0000" stroke="#7a0000" stroke-width="0.9"/><rect x="698.1" y="535.6" width="10.8" height="10.8" fill="#EE0000" stroke="#7a0000" stroke-width="0.9"/><rect x="714.1" y="544.7" width="10.8" height="10.8" fill="#EE0000" stroke="#7a0000" stroke-width="0.9"/><path d="M466.4,452.7C477.2,453.2 513.0,454.2 531.4,455.5C549.8,456.8 563.9,458.0 577.0,460.5C590.1,463.0 600.6,467.4 610.0,470.7C619.4,474.0 625.7,476.6 633.6,480.1C641.5,483.6 650.9,488.1 657.2,491.9C663.5,495.6 666.7,499.0 671.4,502.6C676.1,506.2 680.5,508.7 685.6,513.6C690.7,518.5 697.0,526.3 702.1,532.1C707.2,537.9 712.1,542.6 716.3,548.6C720.5,554.6 725.6,565.0 727.5,568.3" fill="none" stroke="#000" stroke-width="2.8" stroke-linejoin="round"/><path d="M466.4,435.0C477.2,438.0 514.9,447.0 531.4,453.2C547.9,459.4 552.5,464.9 565.6,472.0C578.7,479.1 596.7,488.2 610.0,495.5C623.3,502.8 633.6,510.7 645.4,515.6C657.2,520.5 670.9,523.2 680.8,525.0C690.7,526.8 697.2,526.7 705.0,526.5C712.8,526.3 723.8,524.2 727.5,523.8" fill="none" stroke="#0A0AD0" stroke-width="3" stroke-dasharray="15,6,3.8,6"/></g><clipPath id="c5"><rect x="819.6" y="366.8" width="282.6" height="253.9"/></clipPath><g clip-path="url(#c5)"><circle cx="906.7" cy="422.0" r="3.7" fill="#BDBDBD" stroke="#444" stroke-width="0.9"/><circle cx="921.3" cy="411.0" r="3.7" fill="#BDBDBD" stroke="#444" stroke-width="0.9"/><circle cx="920.9" cy="435.4" r="3.7" fill="#BDBDBD" stroke="#444" stroke-width="0.9"/><path d="M896.3,475.2L901.2,484.3L891.4,484.3Z" fill="#7B7B7B" stroke="#222" stroke-width="0.9"/><path d="M918.6,476.3L923.5,485.4L913.7,485.4Z" fill="#7B7B7B" stroke="#222" stroke-width="0.9"/><path d="M922.0,479.7L926.9,488.8L917.1,488.8Z" fill="#7B7B7B" stroke="#222" stroke-width="0.9"/><path d="M931.1,495.7L936.0,504.8L926.2,504.8Z" fill="#7B7B7B" stroke="#222" stroke-width="0.9"/><path d="M925.4,460.3L930.3,469.4L920.5,469.4Z" fill="#7B7B7B" stroke="#222" stroke-width="0.9"/><path d="M933.4,463.8L938.3,472.9L928.5,472.9Z" fill="#7B7B7B" stroke="#222" stroke-width="0.9"/><path d="M950.5,442.1L955.4,451.2L945.6,451.2Z" fill="#7B7B7B" stroke="#222" stroke-width="0.9"/><path d="M955.1,443.2L960.0,452.3L950.2,452.3Z" fill="#7B7B7B" stroke="#222" stroke-width="0.9"/><path d="M956.2,458.1L961.1,467.2L951.3,467.2Z" fill="#7B7B7B" stroke="#222" stroke-width="0.9"/><path d="M956.2,502.5L961.1,511.6L951.3,511.6Z" fill="#7B7B7B" stroke="#222" stroke-width="0.9"/><path d="M958.5,519.6L963.4,528.7L953.6,528.7Z" fill="#7B7B7B" stroke="#222" stroke-width="0.9"/><path d="M964.2,458.1L969.1,467.2L959.3,467.2Z" fill="#7B7B7B" stroke="#222" stroke-width="0.9"/><path d="M969.9,468.3L974.8,477.4L965.0,477.4Z" fill="#7B7B7B" stroke="#222" stroke-width="0.9"/><path d="M975.6,475.2L980.5,484.3L970.7,484.3Z" fill="#7B7B7B" stroke="#222" stroke-width="0.9"/><path d="M977.9,518.5L982.8,527.6L973.0,527.6Z" fill="#7B7B7B" stroke="#222" stroke-width="0.9"/><path d="M980.2,513.9L985.1,523.0L975.3,523.0Z" fill="#7B7B7B" stroke="#222" stroke-width="0.9"/><path d="M983.6,464.9L988.5,474.0L978.7,474.0Z" fill="#7B7B7B" stroke="#222" stroke-width="0.9"/><path d="M991.6,501.4L996.5,510.5L986.7,510.5Z" fill="#7B7B7B" stroke="#222" stroke-width="0.9"/><path d="M992.7,504.8L997.6,513.9L987.8,513.9Z" fill="#7B7B7B" stroke="#222" stroke-width="0.9"/><path d="M996.1,513.9L1001.0,523.0L991.2,523.0Z" fill="#7B7B7B" stroke="#222" stroke-width="0.9"/><path d="M998.4,513.9L1003.3,523.0L993.5,523.0Z" fill="#7B7B7B" stroke="#222" stroke-width="0.9"/><path d="M996.1,540.1L1001.0,549.2L991.2,549.2Z" fill="#7B7B7B" stroke="#222" stroke-width="0.9"/><path d="M1003.0,529.9L1007.9,539.0L998.1,539.0Z" fill="#7B7B7B" stroke="#222" stroke-width="0.9"/><path d="M1004.1,534.4L1009.0,543.5L999.2,543.5Z" fill="#7B7B7B" stroke="#222" stroke-width="0.9"/><path d="M1009.8,456.9L1014.7,466.0L1004.9,466.0Z" fill="#7B7B7B" stroke="#222" stroke-width="0.9"/><path d="M1009.8,487.7L1014.7,496.8L1004.9,496.8Z" fill="#7B7B7B" stroke="#222" stroke-width="0.9"/><path d="M1014.4,480.9L1019.3,490.0L1009.5,490.0Z" fill="#7B7B7B" stroke="#222" stroke-width="0.9"/><path d="M1018.9,480.9L1023.8,490.0L1014.0,490.0Z" fill="#7B7B7B" stroke="#222" stroke-width="0.9"/><path d="M1012.1,509.4L1017.0,518.5L1007.2,518.5Z" fill="#7B7B7B" stroke="#222" stroke-width="0.9"/><path d="M1015.5,527.6L1020.4,536.7L1010.6,536.7Z" fill="#7B7B7B" stroke="#222" stroke-width="0.9"/><path d="M1021.2,532.2L1026.1,541.3L1016.3,541.3Z" fill="#7B7B7B" stroke="#222" stroke-width="0.9"/><path d="M1021.2,516.2L1026.1,525.3L1016.3,525.3Z" fill="#7B7B7B" stroke="#222" stroke-width="0.9"/><path d="M1025.8,502.5L1030.7,511.6L1020.9,511.6Z" fill="#7B7B7B" stroke="#222" stroke-width="0.9"/><path d="M1030.3,479.7L1035.2,488.8L1025.4,488.8Z" fill="#7B7B7B" stroke="#222" stroke-width="0.9"/><path d="M1032.6,494.5L1037.5,503.6L1027.7,503.6Z" fill="#7B7B7B" stroke="#222" stroke-width="0.9"/><path d="M1034.9,451.2L1039.8,460.3L1030.0,460.3Z" fill="#7B7B7B" stroke="#222" stroke-width="0.9"/><path d="M1033.7,516.2L1038.6,525.3L1028.8,525.3Z" fill="#7B7B7B" stroke="#222" stroke-width="0.9"/><path d="M1038.3,511.6L1043.2,520.7L1033.4,520.7Z" fill="#7B7B7B" stroke="#222" stroke-width="0.9"/><path d="M1044.0,475.2L1048.9,484.3L1039.1,484.3Z" fill="#7B7B7B" stroke="#222" stroke-width="0.9"/><path d="M1045.1,501.4L1050.0,510.5L1040.2,510.5Z" fill="#7B7B7B" stroke="#222" stroke-width="0.9"/><path d="M1046.3,507.1L1051.2,516.2L1041.4,516.2Z" fill="#7B7B7B" stroke="#222" stroke-width="0.9"/><path d="M1050.8,513.9L1055.7,523.0L1045.9,523.0Z" fill="#7B7B7B" stroke="#222" stroke-width="0.9"/><path d="M1044.0,534.4L1048.9,543.5L1039.1,543.5Z" fill="#7B7B7B" stroke="#222" stroke-width="0.9"/><path d="M1050.8,529.9L1055.7,539.0L1045.9,539.0Z" fill="#7B7B7B" stroke="#222" stroke-width="0.9"/><path d="M1058.8,518.5L1063.7,527.6L1053.9,527.6Z" fill="#7B7B7B" stroke="#222" stroke-width="0.9"/><path d="M1061.1,531.0L1066.0,540.1L1056.2,540.1Z" fill="#7B7B7B" stroke="#222" stroke-width="0.9"/><path d="M1070.2,528.7L1075.1,537.8L1065.3,537.8Z" fill="#7B7B7B" stroke="#222" stroke-width="0.9"/><path d="M1078.2,552.7L1083.1,561.8L1073.3,561.8Z" fill="#7B7B7B" stroke="#222" stroke-width="0.9"/><path d="M1044.0,543.6L1048.9,552.7L1039.1,552.7Z" fill="#7B7B7B" stroke="#222" stroke-width="0.9"/><path d="M1039.4,557.2L1044.3,566.3L1034.5,566.3Z" fill="#7B7B7B" stroke="#222" stroke-width="0.9"/><path d="M1044.0,564.1L1048.9,573.2L1039.1,573.2Z" fill="#7B7B7B" stroke="#222" stroke-width="0.9"/><path d="M1042.9,574.3L1047.8,583.4L1038.0,583.4Z" fill="#7B7B7B" stroke="#222" stroke-width="0.9"/><path d="M1048.6,565.2L1053.5,574.3L1043.7,574.3Z" fill="#7B7B7B" stroke="#222" stroke-width="0.9"/><path d="M1055.4,573.2L1060.3,582.3L1050.5,582.3Z" fill="#7B7B7B" stroke="#222" stroke-width="0.9"/><path d="M1053.1,575.5L1058.0,584.6L1048.2,584.6Z" fill="#7B7B7B" stroke="#222" stroke-width="0.9"/><path d="M995.0,436.4L999.9,445.5L990.1,445.5Z" fill="#fff" stroke="#111" stroke-width="0.9"/><path d="M995.0,436.4L995.0,445.5L990.1,445.5Z" fill="#111"/><path d="M1003.0,450.1L1007.9,459.2L998.1,459.2Z" fill="#fff" stroke="#111" stroke-width="0.9"/><path d="M1003.0,450.1L1003.0,459.2L998.1,459.2Z" fill="#111"/><path d="M997.3,470.6L1002.2,479.7L992.4,479.7Z" fill="#fff" stroke="#111" stroke-width="0.9"/><path d="M997.3,470.6L997.3,479.7L992.4,479.7Z" fill="#111"/><path d="M961.9,490.0L966.8,499.1L957.0,499.1Z" fill="#fff" stroke="#111" stroke-width="0.9"/><path d="M961.9,490.0L961.9,499.1L957.0,499.1Z" fill="#111"/><path d="M977.9,500.2L982.8,509.3L973.0,509.3Z" fill="#fff" stroke="#111" stroke-width="0.9"/><path d="M977.9,500.2L977.9,509.3L973.0,509.3Z" fill="#111"/><path d="M976.7,444.4L981.6,453.5L971.8,453.5Z" fill="#fff" stroke="#111" stroke-width="0.9"/><path d="M976.7,444.4L976.7,453.5L971.8,453.5Z" fill="#111"/><path d="M983.6,466.0L988.5,475.1L978.7,475.1Z" fill="#fff" stroke="#111" stroke-width="0.9"/><path d="M983.6,466.0L983.6,475.1L978.7,475.1Z" fill="#111"/><path d="M964.2,459.2L969.1,468.3L959.3,468.3Z" fill="#fff" stroke="#111" stroke-width="0.9"/><path d="M964.2,459.2L964.2,468.3L959.3,468.3Z" fill="#111"/><polyline points="899.2,450.9 920.4,453.2 930.0,479.4 955.5,481.7 974.5,458.9 987.0,494.2 1006.4,505.6 1020.0,511.3 1040.6,528.4 1054.3,550.1" fill="none" stroke="#D02828" stroke-width="1.8"/><path d="M899.2,427.0V475.3M893.0,427.0H905.4M893.0,475.3H905.4" stroke="#E41C1C" stroke-width="2.3" fill="none"/><path d="M920.4,417.2V489.7M914.2,417.2H926.6M914.2,489.7H926.6" stroke="#E41C1C" stroke-width="2.3" fill="none"/><path d="M930.0,461.2V498.8M923.8,461.2H936.2M923.8,498.8H936.2" stroke="#E41C1C" stroke-width="2.3" fill="none"/><path d="M955.5,449.1V514.3M949.3,449.1H961.7M949.3,514.3H961.7" stroke="#E41C1C" stroke-width="2.3" fill="none"/><path d="M974.5,406.9V511.3M968.3,406.9H980.7M968.3,511.3H980.7" stroke="#E41C1C" stroke-width="2.3" fill="none"/><path d="M987.0,464.6V523.4M980.8,464.6H993.2M980.8,523.4H993.2" stroke="#E41C1C" stroke-width="2.3" fill="none"/><path d="M1006.4,484.0V526.2M1000.2,484.0H1012.6M1000.2,526.2H1012.6" stroke="#E41C1C" stroke-width="2.3" fill="none"/><path d="M1020.0,494.9V526.2M1013.8,494.9H1026.2M1013.8,526.2H1026.2" stroke="#E41C1C" stroke-width="2.3" fill="none"/><path d="M1040.6,494.9V562.2M1034.4,494.9H1046.8M1034.4,562.2H1046.8" stroke="#E41C1C" stroke-width="2.3" fill="none"/><path d="M1054.3,525.7V574.0M1048.1,525.7H1060.5M1048.1,574.0H1060.5" stroke="#E41C1C" stroke-width="2.3" fill="none"/><rect x="893.8" y="445.5" width="10.8" height="10.8" fill="#EE0000" stroke="#7a0000" stroke-width="0.9"/><rect x="915.0" y="447.8" width="10.8" height="10.8" fill="#EE0000" stroke="#7a0000" stroke-width="0.9"/><rect x="924.6" y="474.0" width="10.8" height="10.8" fill="#EE0000" stroke="#7a0000" stroke-width="0.9"/><rect x="950.1" y="476.3" width="10.8" height="10.8" fill="#EE0000" stroke="#7a0000" stroke-width="0.9"/><rect x="969.1" y="453.5" width="10.8" height="10.8" fill="#EE0000" stroke="#7a0000" stroke-width="0.9"/><rect x="981.6" y="488.8" width="10.8" height="10.8" fill="#EE0000" stroke="#7a0000" stroke-width="0.9"/><rect x="1001.0" y="500.2" width="10.8" height="10.8" fill="#EE0000" stroke="#7a0000" stroke-width="0.9"/><rect x="1014.6" y="505.9" width="10.8" height="10.8" fill="#EE0000" stroke="#7a0000" stroke-width="0.9"/><rect x="1035.2" y="523.0" width="10.8" height="10.8" fill="#EE0000" stroke="#7a0000" stroke-width="0.9"/><rect x="1048.9" y="544.7" width="10.8" height="10.8" fill="#EE0000" stroke="#7a0000" stroke-width="0.9"/><path d="M819.6,427.4C821.5,427.9 827.1,429.5 830.9,430.5C834.7,431.5 838.5,432.6 842.3,433.6C846.1,434.7 849.8,435.7 853.6,436.8C857.4,437.9 861.2,439.1 865.0,440.2C868.8,441.3 872.5,442.4 876.3,443.6C880.1,444.8 883.9,446.0 887.7,447.2C891.5,448.4 895.2,449.7 899.0,451.0C902.8,452.3 906.5,453.5 910.3,454.9C914.1,456.2 917.9,457.7 921.7,459.1C925.5,460.5 929.2,462.0 933.0,463.5C936.8,465.0 940.6,466.6 944.4,468.2C948.2,469.8 951.9,471.6 955.7,473.3C959.5,475.1 963.3,476.8 967.1,478.7C970.9,480.6 974.6,482.5 978.4,484.6C982.2,486.7 986.0,488.9 989.8,491.1C993.6,493.4 997.3,495.6 1001.1,498.1C1004.9,500.6 1008.6,503.2 1012.4,505.9C1016.2,508.6 1020.0,511.5 1023.8,514.5C1027.6,517.5 1031.3,520.7 1035.1,524.1C1038.9,527.5 1042.7,531.0 1046.5,534.8C1050.3,538.6 1054.0,542.5 1057.8,546.7C1061.6,550.9 1065.4,555.4 1069.2,560.2C1073.0,565.0 1078.6,572.9 1080.5,575.4" fill="none" stroke="#000" stroke-width="2.8" stroke-linejoin="round"/></g><circle cx="977.4" cy="391.2" r="3.7" fill="#fff" stroke="#111" stroke-width="0.9"/><path d="M977.4,387.5A3.7,3.7 0 0 0 977.4,394.9Z" fill="#111"/><g stroke="#111" stroke-width="1.8" fill="none"><rect x="113.2" y="84.7" width="282.6" height="254.0" fill="none" stroke="#111" stroke-width="1.8"/><path d="M103.2,338.7H113.2M395.8,338.7H405.8"/><path d="M103.2,275.2H113.2M395.8,275.2H405.8"/><path d="M103.2,211.7H113.2M395.8,211.7H405.8"/><path d="M103.2,148.2H113.2M395.8,148.2H405.8"/><path d="M103.2,84.7H113.2M395.8,84.7H405.8"/><path d="M107.2,319.6H113.2M395.8,319.6H401.8"/><path d="M107.2,308.4H113.2M395.8,308.4H401.8"/><path d="M107.2,300.5H113.2M395.8,300.5H401.8"/><path d="M107.2,294.3H113.2M395.8,294.3H401.8"/><path d="M107.2,289.3H113.2M395.8,289.3H401.8"/><path d="M107.2,285.0H113.2M395.8,285.0H401.8"/><path d="M107.2,281.4H113.2M395.8,281.4H401.8"/><path d="M107.2,278.1H113.2M395.8,278.1H401.8"/><path d="M107.2,256.1H113.2M395.8,256.1H401.8"/><path d="M107.2,244.9H113.2M395.8,244.9H401.8"/><path d="M107.2,237.0H113.2M395.8,237.0H401.8"/><path d="M107.2,230.8H113.2M395.8,230.8H401.8"/><path d="M107.2,225.8H113.2M395.8,225.8H401.8"/><path d="M107.2,221.5H113.2M395.8,221.5H401.8"/><path d="M107.2,217.9H113.2M395.8,217.9H401.8"/><path d="M107.2,214.6H113.2M395.8,214.6H401.8"/><path d="M107.2,192.6H113.2M395.8,192.6H401.8"/><path d="M107.2,181.4H113.2M395.8,181.4H401.8"/><path d="M107.2,173.5H113.2M395.8,173.5H401.8"/><path d="M107.2,167.3H113.2M395.8,167.3H401.8"/><path d="M107.2,162.3H113.2M395.8,162.3H401.8"/><path d="M107.2,158.0H113.2M395.8,158.0H401.8"/><path d="M107.2,154.4H113.2M395.8,154.4H401.8"/><path d="M107.2,151.1H113.2M395.8,151.1H401.8"/><path d="M107.2,129.1H113.2M395.8,129.1H401.8"/><path d="M107.2,117.9H113.2M395.8,117.9H401.8"/><path d="M107.2,110.0H113.2M395.8,110.0H401.8"/><path d="M107.2,103.8H113.2M395.8,103.8H401.8"/><path d="M107.2,98.8H113.2M395.8,98.8H401.8"/><path d="M107.2,94.5H113.2M395.8,94.5H401.8"/><path d="M107.2,90.9H113.2M395.8,90.9H401.8"/><path d="M107.2,87.6H113.2M395.8,87.6H401.8"/><path d="M113.2,74.7V84.7M113.2,338.7V348.7"/><path d="M289.6,74.7V84.7M289.6,338.7V348.7"/><path d="M166.3,77.7V84.7M166.3,338.7V345.7"/><path d="M197.4,77.7V84.7M197.4,338.7V345.7"/><path d="M219.4,77.7V84.7M219.4,338.7V345.7"/><path d="M236.5,77.7V84.7M236.5,338.7V345.7"/><path d="M250.5,77.7V84.7M250.5,338.7V345.7"/><path d="M262.3,77.7V84.7M262.3,338.7V345.7"/><path d="M272.5,77.7V84.7M272.5,338.7V345.7"/><path d="M281.5,77.7V84.7M281.5,338.7V345.7"/><path d="M342.7,77.7V84.7M342.7,338.7V345.7"/><path d="M373.8,77.7V84.7M373.8,338.7V345.7"/><path d="M395.8,77.7V84.7M395.8,338.7V345.7"/></g><text transform="translate(94.6,347.1) scale(0.956,1.11)" text-anchor="end" style="font-family:'Liberation Serif',serif;font-size:21.5px" fill="#111">10<tspan dy="-7.5" style="font-size:15px">-1</tspan></text><text transform="translate(94.6,283.6) scale(0.956,1.11)" text-anchor="end" style="font-family:'Liberation Serif',serif;font-size:21.5px" fill="#111">10<tspan dy="-7.5" style="font-size:15px">0</tspan></text><text transform="translate(94.6,220.1) scale(0.956,1.11)" text-anchor="end" style="font-family:'Liberation Serif',serif;font-size:21.5px" fill="#111">10<tspan dy="-7.5" style="font-size:15px">1</tspan></text><text transform="translate(94.6,156.6) scale(0.956,1.11)" text-anchor="end" style="font-family:'Liberation Serif',serif;font-size:21.5px" fill="#111">10<tspan dy="-7.5" style="font-size:15px">2</tspan></text><text transform="translate(94.6,93.1) scale(0.956,1.11)" text-anchor="end" style="font-family:'Liberation Serif',serif;font-size:21.5px" fill="#111">10<tspan dy="-7.5" style="font-size:15px">3</tspan></text><text transform="translate(360.0,110.7) scale(1,1.04)" text-anchor="end" style="font-family:'Liberation Serif',serif;font-size:21.8px" fill="#111">0.1 s</text><path d="M318.5,113.1H360.0" stroke="#707070" stroke-width="1.8"/><text transform="translate(51.3,211.7) rotate(-90)" text-anchor="middle" style="font-family:'Liberation Serif',serif;font-size:21.8px" fill="#111">PSA [cm/s<tspan dy="-8" style="font-size:15px">2</tspan><tspan dy="8">]</tspan></text><g stroke="#111" stroke-width="1.8" fill="none"><rect x="466.4" y="84.7" width="282.6" height="254.0" fill="none" stroke="#111" stroke-width="1.8"/><path d="M456.4,338.7H466.4M749.0,338.7H759.0"/><path d="M456.4,275.2H466.4M749.0,275.2H759.0"/><path d="M456.4,211.7H466.4M749.0,211.7H759.0"/><path d="M456.4,148.2H466.4M749.0,148.2H759.0"/><path d="M456.4,84.7H466.4M749.0,84.7H759.0"/><path d="M460.4,319.6H466.4M749.0,319.6H755.0"/><path d="M460.4,308.4H466.4M749.0,308.4H755.0"/><path d="M460.4,300.5H466.4M749.0,300.5H755.0"/><path d="M460.4,294.3H466.4M749.0,294.3H755.0"/><path d="M460.4,289.3H466.4M749.0,289.3H755.0"/><path d="M460.4,285.0H466.4M749.0,285.0H755.0"/><path d="M460.4,281.4H466.4M749.0,281.4H755.0"/><path d="M460.4,278.1H466.4M749.0,278.1H755.0"/><path d="M460.4,256.1H466.4M749.0,256.1H755.0"/><path d="M460.4,244.9H466.4M749.0,244.9H755.0"/><path d="M460.4,237.0H466.4M749.0,237.0H755.0"/><path d="M460.4,230.8H466.4M749.0,230.8H755.0"/><path d="M460.4,225.8H466.4M749.0,225.8H755.0"/><path d="M460.4,221.5H466.4M749.0,221.5H755.0"/><path d="M460.4,217.9H466.4M749.0,217.9H755.0"/><path d="M460.4,214.6H466.4M749.0,214.6H755.0"/><path d="M460.4,192.6H466.4M749.0,192.6H755.0"/><path d="M460.4,181.4H466.4M749.0,181.4H755.0"/><path d="M460.4,173.5H466.4M749.0,173.5H755.0"/><path d="M460.4,167.3H466.4M749.0,167.3H755.0"/><path d="M460.4,162.3H466.4M749.0,162.3H755.0"/><path d="M460.4,158.0H466.4M749.0,158.0H755.0"/><path d="M460.4,154.4H466.4M749.0,154.4H755.0"/><path d="M460.4,151.1H466.4M749.0,151.1H755.0"/><path d="M460.4,129.1H466.4M749.0,129.1H755.0"/><path d="M460.4,117.9H466.4M749.0,117.9H755.0"/><path d="M460.4,110.0H466.4M749.0,110.0H755.0"/><path d="M460.4,103.8H466.4M749.0,103.8H755.0"/><path d="M460.4,98.8H466.4M749.0,98.8H755.0"/><path d="M460.4,94.5H466.4M749.0,94.5H755.0"/><path d="M460.4,90.9H466.4M749.0,90.9H755.0"/><path d="M460.4,87.6H466.4M749.0,87.6H755.0"/><path d="M466.4,74.7V84.7M466.4,338.7V348.7"/><path d="M642.8,74.7V84.7M642.8,338.7V348.7"/><path d="M519.5,77.7V84.7M519.5,338.7V345.7"/><path d="M550.6,77.7V84.7M550.6,338.7V345.7"/><path d="M572.6,77.7V84.7M572.6,338.7V345.7"/><path d="M589.7,77.7V84.7M589.7,338.7V345.7"/><path d="M603.7,77.7V84.7M603.7,338.7V345.7"/><path d="M615.5,77.7V84.7M615.5,338.7V345.7"/><path d="M625.7,77.7V84.7M625.7,338.7V345.7"/><path d="M634.7,77.7V84.7M634.7,338.7V345.7"/><path d="M695.9,77.7V84.7M695.9,338.7V345.7"/><path d="M727.0,77.7V84.7M727.0,338.7V345.7"/><path d="M749.0,77.7V84.7M749.0,338.7V345.7"/></g><text transform="translate(447.8,347.1) scale(0.956,1.11)" text-anchor="end" style="font-family:'Liberation Serif',serif;font-size:21.5px" fill="#111">10<tspan dy="-7.5" style="font-size:15px">-1</tspan></text><text transform="translate(447.8,283.6) scale(0.956,1.11)" text-anchor="end" style="font-family:'Liberation Serif',serif;font-size:21.5px" fill="#111">10<tspan dy="-7.5" style="font-size:15px">0</tspan></text><text transform="translate(447.8,220.1) scale(0.956,1.11)" text-anchor="end" style="font-family:'Liberation Serif',serif;font-size:21.5px" fill="#111">10<tspan dy="-7.5" style="font-size:15px">1</tspan></text><text transform="translate(447.8,156.6) scale(0.956,1.11)" text-anchor="end" style="font-family:'Liberation Serif',serif;font-size:21.5px" fill="#111">10<tspan dy="-7.5" style="font-size:15px">2</tspan></text><text transform="translate(447.8,93.1) scale(0.956,1.11)" text-anchor="end" style="font-family:'Liberation Serif',serif;font-size:21.5px" fill="#111">10<tspan dy="-7.5" style="font-size:15px">3</tspan></text><text transform="translate(713.1,110.9) scale(1,1.04)" text-anchor="end" style="font-family:'Liberation Serif',serif;font-size:21.8px" fill="#111">0.2 s</text><path d="M671.3,113.6H712.8" stroke="#707070" stroke-width="1.8"/><g stroke="#111" stroke-width="1.8" fill="none"><rect x="819.6" y="84.7" width="282.6" height="254.0" fill="none" stroke="#111" stroke-width="1.8"/><path d="M809.6,338.7H819.6M1102.2,338.7H1112.2"/><path d="M809.6,254.0H819.6M1102.2,254.0H1112.2"/><path d="M809.6,169.4H819.6M1102.2,169.4H1112.2"/><path d="M809.6,84.7H819.6M1102.2,84.7H1112.2"/><path d="M813.6,313.2H819.6M1102.2,313.2H1108.2"/><path d="M813.6,298.3H819.6M1102.2,298.3H1108.2"/><path d="M813.6,287.7H819.6M1102.2,287.7H1108.2"/><path d="M813.6,279.5H819.6M1102.2,279.5H1108.2"/><path d="M813.6,272.8H819.6M1102.2,272.8H1108.2"/><path d="M813.6,267.1H819.6M1102.2,267.1H1108.2"/><path d="M813.6,262.2H819.6M1102.2,262.2H1108.2"/><path d="M813.6,257.9H819.6M1102.2,257.9H1108.2"/><path d="M813.6,228.5H819.6M1102.2,228.5H1108.2"/><path d="M813.6,213.6H819.6M1102.2,213.6H1108.2"/><path d="M813.6,203.1H819.6M1102.2,203.1H1108.2"/><path d="M813.6,194.9H819.6M1102.2,194.9H1108.2"/><path d="M813.6,188.1H819.6M1102.2,188.1H1108.2"/><path d="M813.6,182.5H819.6M1102.2,182.5H1108.2"/><path d="M813.6,177.6H819.6M1102.2,177.6H1108.2"/><path d="M813.6,173.2H819.6M1102.2,173.2H1108.2"/><path d="M813.6,143.9H819.6M1102.2,143.9H1108.2"/><path d="M813.6,129.0H819.6M1102.2,129.0H1108.2"/><path d="M813.6,118.4H819.6M1102.2,118.4H1108.2"/><path d="M813.6,110.2H819.6M1102.2,110.2H1108.2"/><path d="M813.6,103.5H819.6M1102.2,103.5H1108.2"/><path d="M813.6,97.8H819.6M1102.2,97.8H1108.2"/><path d="M813.6,92.9H819.6M1102.2,92.9H1108.2"/><path d="M813.6,88.6H819.6M1102.2,88.6H1108.2"/><path d="M819.6,74.7V84.7M819.6,338.7V348.7"/><path d="M996.0,74.7V84.7M996.0,338.7V348.7"/><path d="M872.7,77.7V84.7M872.7,338.7V345.7"/><path d="M903.8,77.7V84.7M903.8,338.7V345.7"/><path d="M925.8,77.7V84.7M925.8,338.7V345.7"/><path d="M942.9,77.7V84.7M942.9,338.7V345.7"/><path d="M956.9,77.7V84.7M956.9,338.7V345.7"/><path d="M968.7,77.7V84.7M968.7,338.7V345.7"/><path d="M978.9,77.7V84.7M978.9,338.7V345.7"/><path d="M987.9,77.7V84.7M987.9,338.7V345.7"/><path d="M1049.1,77.7V84.7M1049.1,338.7V345.7"/><path d="M1080.2,77.7V84.7M1080.2,338.7V345.7"/><path d="M1102.2,77.7V84.7M1102.2,338.7V345.7"/></g><text transform="translate(801.0,347.1) scale(0.956,1.11)" text-anchor="end" style="font-family:'Liberation Serif',serif;font-size:21.5px" fill="#111">10<tspan dy="-7.5" style="font-size:15px">-1</tspan></text><text transform="translate(801.0,262.4) scale(0.956,1.11)" text-anchor="end" style="font-family:'Liberation Serif',serif;font-size:21.5px" fill="#111">10<tspan dy="-7.5" style="font-size:15px">0</tspan></text><text transform="translate(801.0,177.8) scale(0.956,1.11)" text-anchor="end" style="font-family:'Liberation Serif',serif;font-size:21.5px" fill="#111">10<tspan dy="-7.5" style="font-size:15px">1</tspan></text><text transform="translate(801.0,93.1) scale(0.956,1.11)" text-anchor="end" style="font-family:'Liberation Serif',serif;font-size:21.5px" fill="#111">10<tspan dy="-7.5" style="font-size:15px">2</tspan></text><text transform="translate(1066.9,110.9) scale(1,1.04)" text-anchor="end" style="font-family:'Liberation Serif',serif;font-size:21.8px" fill="#111">0.4 s</text><path d="M1025.1,113.6H1066.7" stroke="#707070" stroke-width="1.8"/><g stroke="#111" stroke-width="1.8" fill="none"><rect x="113.2" y="366.8" width="282.6" height="253.9" fill="none" stroke="#111" stroke-width="1.8"/><path d="M103.2,595.2H113.2M395.8,595.2H405.8"/><path d="M103.2,510.5H113.2M395.8,510.5H405.8"/><path d="M103.2,425.8H113.2M395.8,425.8H405.8"/><path d="M107.2,620.7H113.2M395.8,620.7H401.8"/><path d="M107.2,614.0H113.2M395.8,614.0H401.8"/><path d="M107.2,608.3H113.2M395.8,608.3H401.8"/><path d="M107.2,603.4H113.2M395.8,603.4H401.8"/><path d="M107.2,599.1H113.2M395.8,599.1H401.8"/><path d="M107.2,569.7H113.2M395.8,569.7H401.8"/><path d="M107.2,554.8H113.2M395.8,554.8H401.8"/><path d="M107.2,544.2H113.2M395.8,544.2H401.8"/><path d="M107.2,536.0H113.2M395.8,536.0H401.8"/><path d="M107.2,529.3H113.2M395.8,529.3H401.8"/><path d="M107.2,523.6H113.2M395.8,523.6H401.8"/><path d="M107.2,518.7H113.2M395.8,518.7H401.8"/><path d="M107.2,514.4H113.2M395.8,514.4H401.8"/><path d="M107.2,485.0H113.2M395.8,485.0H401.8"/><path d="M107.2,470.1H113.2M395.8,470.1H401.8"/><path d="M107.2,459.5H113.2M395.8,459.5H401.8"/><path d="M107.2,451.3H113.2M395.8,451.3H401.8"/><path d="M107.2,444.6H113.2M395.8,444.6H401.8"/><path d="M107.2,438.9H113.2M395.8,438.9H401.8"/><path d="M107.2,434.0H113.2M395.8,434.0H401.8"/><path d="M107.2,429.7H113.2M395.8,429.7H401.8"/><path d="M107.2,400.3H113.2M395.8,400.3H401.8"/><path d="M107.2,385.4H113.2M395.8,385.4H401.8"/><path d="M107.2,374.8H113.2M395.8,374.8H401.8"/><path d="M107.2,366.6H113.2M395.8,366.6H401.8"/><path d="M113.2,356.8V366.8M113.2,620.7V630.7"/><path d="M289.6,356.8V366.8M289.6,620.7V630.7"/><path d="M166.3,359.8V366.8M166.3,620.7V627.7"/><path d="M197.4,359.8V366.8M197.4,620.7V627.7"/><path d="M219.4,359.8V366.8M219.4,620.7V627.7"/><path d="M236.5,359.8V366.8M236.5,620.7V627.7"/><path d="M250.5,359.8V366.8M250.5,620.7V627.7"/><path d="M262.3,359.8V366.8M262.3,620.7V627.7"/><path d="M272.5,359.8V366.8M272.5,620.7V627.7"/><path d="M281.5,359.8V366.8M281.5,620.7V627.7"/><path d="M342.7,359.8V366.8M342.7,620.7V627.7"/><path d="M373.8,359.8V366.8M373.8,620.7V627.7"/><path d="M395.8,359.8V366.8M395.8,620.7V627.7"/></g><text transform="translate(94.6,603.6) scale(0.956,1.11)" text-anchor="end" style="font-family:'Liberation Serif',serif;font-size:21.5px" fill="#111">10<tspan dy="-7.5" style="font-size:15px">-1</tspan></text><text transform="translate(94.6,518.9) scale(0.956,1.11)" text-anchor="end" style="font-family:'Liberation Serif',serif;font-size:21.5px" fill="#111">10<tspan dy="-7.5" style="font-size:15px">0</tspan></text><text transform="translate(94.6,434.2) scale(0.956,1.11)" text-anchor="end" style="font-family:'Liberation Serif',serif;font-size:21.5px" fill="#111">10<tspan dy="-7.5" style="font-size:15px">1</tspan></text><text transform="translate(113.5,658.6) scale(0.956,1.11)" text-anchor="middle" style="font-family:'Liberation Serif',serif;font-size:21.5px" fill="#111">10<tspan dy="-7.5" style="font-size:15px">1</tspan></text><text transform="translate(289.9,658.6) scale(0.956,1.11)" text-anchor="middle" style="font-family:'Liberation Serif',serif;font-size:21.5px" fill="#111">10<tspan dy="-7.5" style="font-size:15px">2</tspan></text><text x="254.5" y="693.6" text-anchor="middle" style="font-family:'Liberation Serif',serif;font-size:21.8px" fill="#111">Epicentral distance [km]</text><text transform="translate(358.9,395.8) scale(1,1.04)" text-anchor="end" style="font-family:'Liberation Serif',serif;font-size:21.8px" fill="#111">1.0 s</text><path d="M317.4,398.5H358.9" stroke="#707070" stroke-width="1.8"/><text transform="translate(51.3,493.8) rotate(-90)" text-anchor="middle" style="font-family:'Liberation Serif',serif;font-size:21.8px" fill="#111">PSA [cm/s<tspan dy="-8" style="font-size:15px">2</tspan><tspan dy="8">]</tspan></text><g stroke="#111" stroke-width="1.8" fill="none"><rect x="466.4" y="366.8" width="282.6" height="253.9" fill="none" stroke="#111" stroke-width="1.8"/><path d="M456.4,621.2H466.4M749.0,621.2H759.0"/><path d="M456.4,533.5H466.4M749.0,533.5H759.0"/><path d="M456.4,445.8H466.4M749.0,445.8H759.0"/><path d="M460.4,594.8H466.4M749.0,594.8H755.0"/><path d="M460.4,579.4H466.4M749.0,579.4H755.0"/><path d="M460.4,568.4H466.4M749.0,568.4H755.0"/><path d="M460.4,559.9H466.4M749.0,559.9H755.0"/><path d="M460.4,553.0H466.4M749.0,553.0H755.0"/><path d="M460.4,547.1H466.4M749.0,547.1H755.0"/><path d="M460.4,542.0H466.4M749.0,542.0H755.0"/><path d="M460.4,537.5H466.4M749.0,537.5H755.0"/><path d="M460.4,507.1H466.4M749.0,507.1H755.0"/><path d="M460.4,491.7H466.4M749.0,491.7H755.0"/><path d="M460.4,480.7H466.4M749.0,480.7H755.0"/><path d="M460.4,472.2H466.4M749.0,472.2H755.0"/><path d="M460.4,465.3H466.4M749.0,465.3H755.0"/><path d="M460.4,459.4H466.4M749.0,459.4H755.0"/><path d="M460.4,454.3H466.4M749.0,454.3H755.0"/><path d="M460.4,449.8H466.4M749.0,449.8H755.0"/><path d="M460.4,419.4H466.4M749.0,419.4H755.0"/><path d="M460.4,404.0H466.4M749.0,404.0H755.0"/><path d="M460.4,393.0H466.4M749.0,393.0H755.0"/><path d="M460.4,384.5H466.4M749.0,384.5H755.0"/><path d="M460.4,377.6H466.4M749.0,377.6H755.0"/><path d="M460.4,371.7H466.4M749.0,371.7H755.0"/><path d="M460.4,366.6H466.4M749.0,366.6H755.0"/><path d="M457.9,538.7H466.4M749.0,538.7H757.5"/><path d="M457.9,452.3H466.4M749.0,452.3H757.5"/><path d="M457.9,366.9H466.4M749.0,366.9H757.5"/><path d="M461.9,599.1H466.4M749.0,599.1H753.5"/><path d="M461.9,583.9H466.4M749.0,583.9H753.5"/><path d="M461.9,573.1H466.4M749.0,573.1H753.5"/><path d="M461.9,564.7H466.4M749.0,564.7H753.5"/><path d="M461.9,557.9H466.4M749.0,557.9H753.5"/><path d="M461.9,552.1H466.4M749.0,552.1H753.5"/><path d="M461.9,547.1H466.4M749.0,547.1H753.5"/><path d="M461.9,542.7H466.4M749.0,542.7H753.5"/><path d="M461.9,512.7H466.4M749.0,512.7H753.5"/><path d="M461.9,497.5H466.4M749.0,497.5H753.5"/><path d="M461.9,486.7H466.4M749.0,486.7H753.5"/><path d="M461.9,478.3H466.4M749.0,478.3H753.5"/><path d="M461.9,471.5H466.4M749.0,471.5H753.5"/><path d="M461.9,465.7H466.4M749.0,465.7H753.5"/><path d="M461.9,460.7H466.4M749.0,460.7H753.5"/><path d="M461.9,456.3H466.4M749.0,456.3H753.5"/><path d="M461.9,426.3H466.4M749.0,426.3H753.5"/><path d="M461.9,411.1H466.4M749.0,411.1H753.5"/><path d="M461.9,400.3H466.4M749.0,400.3H753.5"/><path d="M461.9,391.9H466.4M749.0,391.9H753.5"/><path d="M461.9,385.1H466.4M749.0,385.1H753.5"/><path d="M461.9,379.3H466.4M749.0,379.3H753.5"/><path d="M461.9,374.3H466.4M749.0,374.3H753.5"/><path d="M461.9,369.9H466.4M749.0,369.9H753.5"/><path d="M466.4,356.8V366.8M466.4,620.7V630.7"/><path d="M642.8,356.8V366.8M642.8,620.7V630.7"/><path d="M519.5,359.8V366.8M519.5,620.7V627.7"/><path d="M550.6,359.8V366.8M550.6,620.7V627.7"/><path d="M572.6,359.8V366.8M572.6,620.7V627.7"/><path d="M589.7,359.8V366.8M589.7,620.7V627.7"/><path d="M603.7,359.8V366.8M603.7,620.7V627.7"/><path d="M615.5,359.8V366.8M615.5,620.7V627.7"/><path d="M625.7,359.8V366.8M625.7,620.7V627.7"/><path d="M634.7,359.8V366.8M634.7,620.7V627.7"/><path d="M695.9,359.8V366.8M695.9,620.7V627.7"/><path d="M727.0,359.8V366.8M727.0,620.7V627.7"/><path d="M749.0,359.8V366.8M749.0,620.7V627.7"/></g><text transform="translate(447.8,629.6) scale(0.956,1.11)" text-anchor="end" style="font-family:'Liberation Serif',serif;font-size:21.5px" fill="#111">10<tspan dy="-7.5" style="font-size:15px">-2</tspan></text><text transform="translate(447.8,541.9) scale(0.956,1.11)" text-anchor="end" style="font-family:'Liberation Serif',serif;font-size:21.5px" fill="#111">10<tspan dy="-7.5" style="font-size:15px">-1</tspan></text><text transform="translate(447.8,454.2) scale(0.956,1.11)" text-anchor="end" style="font-family:'Liberation Serif',serif;font-size:21.5px" fill="#111">10<tspan dy="-7.5" style="font-size:15px">0</tspan></text><text transform="translate(466.7,658.6) scale(0.956,1.11)" text-anchor="middle" style="font-family:'Liberation Serif',serif;font-size:21.5px" fill="#111">10<tspan dy="-7.5" style="font-size:15px">1</tspan></text><text transform="translate(643.1,658.6) scale(0.956,1.11)" text-anchor="middle" style="font-family:'Liberation Serif',serif;font-size:21.5px" fill="#111">10<tspan dy="-7.5" style="font-size:15px">2</tspan></text><text x="607.7" y="693.6" text-anchor="middle" style="font-family:'Liberation Serif',serif;font-size:21.8px" fill="#111">Epicentral distance [km]</text><text transform="translate(712.8,395.7) scale(1,1.04)" text-anchor="end" style="font-family:'Liberation Serif',serif;font-size:21.8px" fill="#111">2.0 s</text><path d="M671.3,398.3H712.8" stroke="#707070" stroke-width="1.8"/><g stroke="#111" stroke-width="1.8" fill="none"><rect x="819.6" y="366.8" width="282.6" height="253.9" fill="none" stroke="#111" stroke-width="1.8"/><path d="M809.6,587.1H819.6M1102.2,587.1H1112.2"/><path d="M809.6,476.8H819.6M1102.2,476.8H1112.2"/><path d="M809.6,366.5H819.6M1102.2,366.5H1112.2"/><path d="M813.6,620.3H819.6M1102.2,620.3H1108.2"/><path d="M813.6,611.6H819.6M1102.2,611.6H1108.2"/><path d="M813.6,604.2H819.6M1102.2,604.2H1108.2"/><path d="M813.6,597.8H819.6M1102.2,597.8H1108.2"/><path d="M813.6,592.1H819.6M1102.2,592.1H1108.2"/><path d="M813.6,553.9H819.6M1102.2,553.9H1108.2"/><path d="M813.6,534.5H819.6M1102.2,534.5H1108.2"/><path d="M813.6,520.7H819.6M1102.2,520.7H1108.2"/><path d="M813.6,510.0H819.6M1102.2,510.0H1108.2"/><path d="M813.6,501.3H819.6M1102.2,501.3H1108.2"/><path d="M813.6,493.9H819.6M1102.2,493.9H1108.2"/><path d="M813.6,487.5H819.6M1102.2,487.5H1108.2"/><path d="M813.6,481.8H819.6M1102.2,481.8H1108.2"/><path d="M813.6,443.6H819.6M1102.2,443.6H1108.2"/><path d="M813.6,424.2H819.6M1102.2,424.2H1108.2"/><path d="M813.6,410.4H819.6M1102.2,410.4H1108.2"/><path d="M813.6,399.7H819.6M1102.2,399.7H1108.2"/><path d="M813.6,391.0H819.6M1102.2,391.0H1108.2"/><path d="M813.6,383.6H819.6M1102.2,383.6H1108.2"/><path d="M813.6,377.2H819.6M1102.2,377.2H1108.2"/><path d="M813.6,371.5H819.6M1102.2,371.5H1108.2"/><path d="M819.6,356.8V366.8M819.6,620.7V630.7"/><path d="M996.0,356.8V366.8M996.0,620.7V630.7"/><path d="M872.7,359.8V366.8M872.7,620.7V627.7"/><path d="M903.8,359.8V366.8M903.8,620.7V627.7"/><path d="M925.8,359.8V366.8M925.8,620.7V627.7"/><path d="M942.9,359.8V366.8M942.9,620.7V627.7"/><path d="M956.9,359.8V366.8M956.9,620.7V627.7"/><path d="M968.7,359.8V366.8M968.7,620.7V627.7"/><path d="M978.9,359.8V366.8M978.9,620.7V627.7"/><path d="M987.9,359.8V366.8M987.9,620.7V627.7"/><path d="M1049.1,359.8V366.8M1049.1,620.7V627.7"/><path d="M1080.2,359.8V366.8M1080.2,620.7V627.7"/><path d="M1102.2,359.8V366.8M1102.2,620.7V627.7"/></g><text transform="translate(801.0,595.5) scale(0.956,1.11)" text-anchor="end" style="font-family:'Liberation Serif',serif;font-size:21.5px" fill="#111">10<tspan dy="-7.5" style="font-size:15px">-2</tspan></text><text transform="translate(801.0,485.2) scale(0.956,1.11)" text-anchor="end" style="font-family:'Liberation Serif',serif;font-size:21.5px" fill="#111">10<tspan dy="-7.5" style="font-size:15px">-1</tspan></text><text transform="translate(801.0,374.9) scale(0.956,1.11)" text-anchor="end" style="font-family:'Liberation Serif',serif;font-size:21.5px" fill="#111">10<tspan dy="-7.5" style="font-size:15px">0</tspan></text><text transform="translate(819.9,658.6) scale(0.956,1.11)" text-anchor="middle" style="font-family:'Liberation Serif',serif;font-size:21.5px" fill="#111">10<tspan dy="-7.5" style="font-size:15px">1</tspan></text><text transform="translate(996.3,658.6) scale(0.956,1.11)" text-anchor="middle" style="font-family:'Liberation Serif',serif;font-size:21.5px" fill="#111">10<tspan dy="-7.5" style="font-size:15px">2</tspan></text><text x="960.9" y="693.6" text-anchor="middle" style="font-family:'Liberation Serif',serif;font-size:21.8px" fill="#111">Epicentral distance [km]</text><text transform="translate(1068.3,395.5) scale(1,1.04)" text-anchor="end" style="font-family:'Liberation Serif',serif;font-size:21.8px" fill="#111">4.0 s</text><path d="M1027.1,398.3H1067.8" stroke="#707070" stroke-width="1.8"/><rect x="247.5" y="705.6" width="662.0" height="144.69999999999993" fill="#D3D3D3" stroke="#8C8C8C" stroke-width="1.4"/><text x="250.3" y="729.0" style="font-family:'Liberation Serif',serif;font-size:22.95px" fill="#111">Individual recording:</text><text x="502.4" y="729.0" style="font-family:'Liberation Serif',serif;font-size:22.95px" fill="#111">Intensity station</text><text x="706.0" y="729.0" style="font-family:'Liberation Serif',serif;font-size:22.95px" fill="#111">Strong-motion station</text><text x="250.3" y="757.6" style="font-family:'Liberation Serif',serif;font-size:22.95px" fill="#111">Ninghe-Baidi area:</text><text x="500.0" y="757.6" style="font-family:'Liberation Serif',serif;font-size:22.95px" fill="#111">Intensity station</text><text x="704.0" y="757.6" style="font-family:'Liberation Serif',serif;font-size:22.95px" fill="#111">strong-motion station</text><text x="307.6" y="785.8" style="font-family:'Liberation Serif',serif;font-size:22.95px" fill="#111">Distance-binned mean</text><text x="576.0" y="785.8" style="font-family:'Liberation Serif',serif;font-size:22.95px" fill="#111">Predicted median by Wen18 model</text><text x="307.6" y="813.9" style="font-family:'Liberation Serif',serif;font-size:22.95px" fill="#111">Best fitting with linear geometrical spreading model</text><text x="307.6" y="842.0" style="font-family:'Liberation Serif',serif;font-size:22.95px" fill="#111">Best fitting with hinged trilinear geometrical spreading model</text><circle cx="469.9" cy="721.4" r="3.3" fill="#BDBDBD" stroke="#555" stroke-width="0.8"/><path d="M674.6,716.4L678.9,723.9L670.3,723.9Z" fill="#7B7B7B" stroke="#444" stroke-width="0.8"/><circle cx="467.7" cy="749.5" r="3.3" fill="#fff" stroke="#111" stroke-width="0.8"/><path d="M467.7,746.2A3.3,3.3 0 0 0 467.7,752.8Z" fill="#111"/><path d="M672.4,745.0L676.6999999999999,752.8L668.1,752.8Z" fill="#fff" stroke="#111" stroke-width="0.8"/><path d="M672.4,745.0L672.4,752.8L668.1,752.8Z" fill="#111"/><path d="M249.4,778.3H302" stroke="#E01818" stroke-width="2"/><rect x="269.3" y="772.3" width="12" height="12" fill="#EE0000" stroke="#700" stroke-width="1"/><path d="M518,778.3H570.1" stroke="#000" stroke-width="2.6"/><path d="M249.4,806.4H295.4" stroke="#0A0AD0" stroke-width="3" stroke-dasharray="15,6,3.8,6"/><path d="M249.4,834.5H302" stroke="#F4F000" stroke-width="2.4" stroke-dasharray="12,5,3.5,4.5"/></svg>
</body></html>
